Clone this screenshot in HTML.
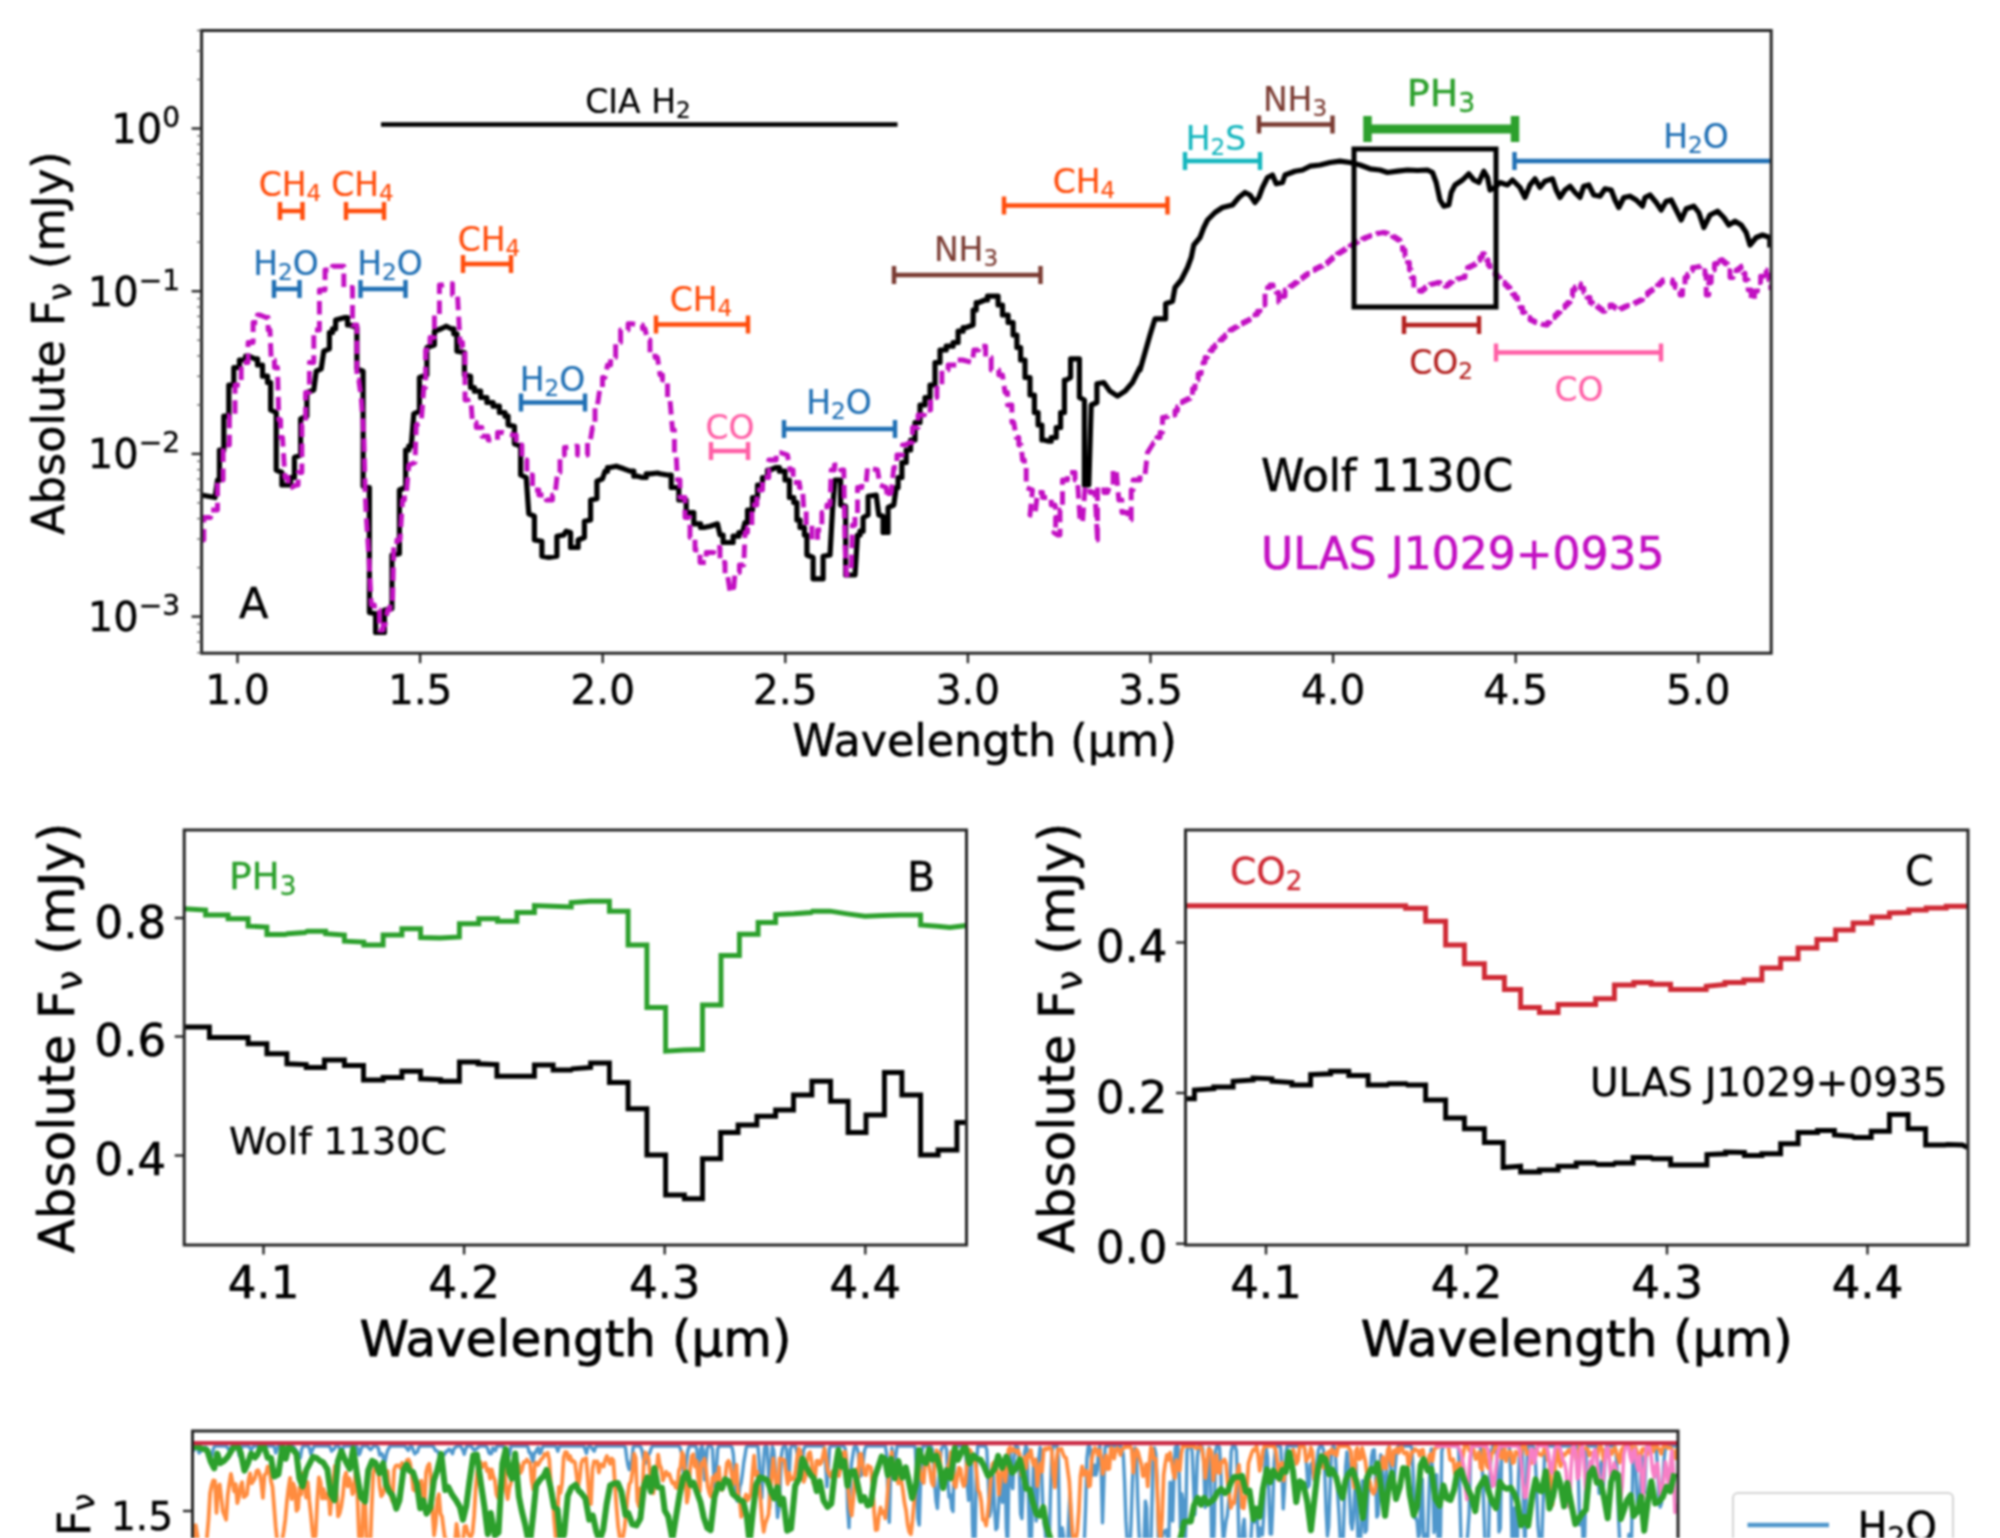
<!DOCTYPE html>
<html lang="en"><head><meta charset="utf-8"><title>Wolf 1130C spectrum</title>
<style>html,body{margin:0;padding:0;background:#fff;}body{width:2000px;height:1538px;overflow:hidden;}svg{display:block;font-family:"DejaVu Sans", "Liberation Sans", sans-serif;filter:blur(1.0px);}text{white-space:pre;}</style></head><body>
<svg width="2000" height="1538" viewBox="0 0 2000 1538">
<rect x="0" y="0" width="2000" height="1538" fill="#fff"/>
<g id="panelA">
<clipPath id="clipA"><rect x="201.6" y="30.5" width="1569.6" height="622.7"/></clipPath>
<g clip-path="url(#clipA)">
<polyline points="201.2,495.0 215.0,497.5 217.5,480.0 219.4,480.0 219.4,450.0 221.2,450.0 223.8,450.0 223.8,416.2 226.2,416.2 228.8,416.2 228.8,385.0 231.2,385.0 233.8,385.0 233.8,367.5 236.2,367.5 239.4,367.5 239.4,360.0 242.5,360.0 245.6,360.0 245.6,356.2 248.8,356.2 255.0,358.8 257.5,358.8 257.5,365.0 260.0,365.0 262.5,365.0 262.5,376.2 265.0,376.2 267.5,376.2 267.5,382.5 270.6,382.5 270.6,410.0 276.2,412.5 276.2,470.0 281.9,472.5 281.9,485.0 287.5,485.0 290.6,485.0 290.6,477.5 294.4,477.5 294.4,457.5 300.6,455.0 300.6,418.8 306.9,416.2 306.9,392.5 313.8,390.0 316.2,371.2 321.2,368.8 323.8,351.2 329.4,348.8 329.4,332.5 332.5,332.5 332.5,328.8 335.6,328.8 335.6,320.0 345.0,317.5 347.5,317.5 347.5,325.0 350.0,325.0 356.9,327.5 356.9,368.8 363.1,371.2 363.1,486.2 369.4,487.5 369.4,612.5 375.6,613.8 375.6,632.5 384.4,632.5 384.4,610.0 391.9,608.8 391.9,555.0 399.4,553.8 399.4,490.0 405.6,487.5 405.6,450.0 408.8,450.0 408.8,446.2 411.2,446.2 413.8,413.8 419.4,411.2 419.4,377.5 426.9,375.0 426.9,347.5 434.4,345.0 434.4,331.2 441.2,328.8 446.2,326.2 451.2,328.8 453.8,328.8 453.8,333.8 456.9,333.8 456.9,351.2 464.4,352.5 464.4,375.0 470.6,376.2 470.6,387.5 474.4,387.5 474.4,391.2 477.5,391.2 480.6,391.2 480.6,397.5 483.8,397.5 486.9,397.5 486.9,402.5 490.0,402.5 493.1,402.5 493.1,406.2 496.2,406.2 499.4,406.2 499.4,412.5 502.5,412.5 505.0,412.5 505.0,416.2 508.1,416.2 508.1,425.0 514.4,426.2 514.4,443.8 520.6,446.2 520.6,475.0 526.2,477.5 528.8,513.8 534.4,516.2 534.4,540.0 541.9,541.2 541.9,556.2 548.8,557.5 556.9,556.2 556.9,536.2 563.8,535.0 566.2,531.2 570.6,532.5 570.6,547.5 578.1,547.5 578.1,540.0 584.4,537.5 584.4,521.2 590.6,520.0 590.6,500.0 596.9,498.8 596.9,481.2 602.5,478.8 605.0,471.2 607.5,471.2 607.5,467.5 610.0,467.5 616.2,466.2 623.8,468.8 630.0,471.2 633.8,471.2 633.8,476.2 637.5,476.2 642.5,477.5 646.2,477.5 646.2,473.8 650.0,473.8 657.5,473.0 660.0,473.8 667.5,475.0 671.2,475.0 671.2,487.5 675.0,487.5 678.8,487.5 678.8,500.0 682.5,500.0 686.2,500.0 686.2,512.5 690.0,512.5 693.8,512.5 693.8,523.8 697.5,523.8 700.6,523.8 700.6,527.5 703.8,527.5 710.0,526.2 717.5,523.8 720.0,535.0 723.1,535.0 723.1,542.5 726.2,542.5 731.2,542.5 733.1,542.5 733.1,536.2 735.0,536.2 738.8,536.2 738.8,532.5 742.5,532.5 745.0,522.5 747.5,522.5 747.5,510.0 750.0,510.0 752.5,510.0 752.5,497.5 755.0,497.5 757.5,497.5 757.5,485.0 760.0,485.0 762.5,485.0 762.5,477.5 765.0,477.5 767.5,477.5 767.5,470.0 770.0,470.0 776.2,467.5 779.4,467.5 779.4,471.2 782.5,471.2 785.0,471.2 785.0,480.0 787.5,480.0 789.4,480.0 789.4,497.5 791.2,497.5 793.8,497.5 793.8,502.5 796.9,502.5 796.9,520.0 800.0,520.0 800.0,527.5 802.5,527.5 804.4,527.5 804.4,535.0 806.9,535.0 806.9,555.0 813.1,557.5 813.1,578.8 823.1,578.8 823.1,556.2 830.0,555.0 832.5,510.0 835.0,480.0 840.6,480.0 840.6,505.0 845.6,506.2 845.6,575.0 855.0,575.0 857.5,535.0 860.0,535.0 860.0,531.2 863.1,531.2 863.1,517.5 868.1,515.0 868.1,496.2 876.2,495.0 878.8,515.0 883.1,516.2 883.1,532.5 888.1,532.5 888.1,507.5 893.8,505.0 896.2,487.5 898.1,487.5 898.1,477.5 900.0,477.5 901.9,477.5 901.9,462.5 903.8,462.5 906.2,462.5 906.2,450.0 908.8,450.0 910.6,450.0 910.6,440.0 912.5,440.0 915.0,440.0 915.0,422.5 917.5,422.5 920.0,422.5 920.0,405.0 922.5,405.0 925.0,405.0 925.0,397.5 927.5,397.5 930.0,397.5 930.0,385.0 932.5,385.0 935.0,385.0 935.0,362.5 937.5,362.5 940.0,362.5 940.0,350.0 942.5,350.0 946.2,350.0 946.2,346.2 950.0,346.2 953.1,346.2 953.1,342.5 956.2,342.5 958.1,342.5 958.1,331.2 960.0,331.2 963.1,331.2 963.1,327.5 966.2,327.5 973.1,325.0 973.1,310.0 976.2,310.0 976.2,302.5 978.8,302.5 985.0,300.0 987.5,300.0 987.5,296.2 990.0,296.2 996.2,296.2 998.1,296.2 998.1,305.0 1000.0,305.0 1002.5,305.0 1002.5,315.0 1005.0,315.0 1008.1,315.0 1008.1,322.5 1011.2,322.5 1013.1,322.5 1013.1,335.0 1015.0,335.0 1016.9,335.0 1016.9,347.5 1018.8,347.5 1020.6,347.5 1020.6,360.0 1022.5,360.0 1025.0,360.0 1025.0,377.5 1027.5,377.5 1030.0,377.5 1030.0,395.0 1032.5,395.0 1034.4,395.0 1034.4,412.5 1036.2,412.5 1038.1,412.5 1038.1,425.0 1040.0,425.0 1041.9,425.0 1041.9,440.0 1043.8,440.0 1048.8,441.2 1051.2,441.2 1051.2,437.5 1053.8,437.5 1056.2,437.5 1056.2,427.5 1058.8,427.5 1060.6,427.5 1060.6,412.5 1062.5,412.5 1064.4,412.5 1064.4,380.0 1066.2,380.0 1070.6,377.5 1070.6,358.8 1079.4,358.8 1079.4,397.5 1084.4,400.0 1084.4,485.0 1088.8,485.0 1091.2,405.0 1096.9,402.5 1096.9,383.8 1103.8,382.5 1110.0,391.2 1117.5,396.2 1125.0,391.2 1132.5,382.5 1140.0,367.5 1140.0,370.0 1145.0,352.5 1150.0,335.0 1155.0,318.8 1165.6,318.8 1165.6,303.8 1172.5,301.2 1175.0,287.5 1181.2,280.0 1187.5,267.5 1191.2,257.5 1193.8,245.0 1200.0,237.5 1203.8,227.5 1207.5,220.0 1215.0,212.5 1222.5,207.5 1232.5,205.0 1238.8,197.5 1245.0,192.5 1250.0,195.0 1255.0,202.5 1258.8,197.5 1262.5,187.5 1267.5,177.5 1272.5,175.0 1276.2,183.8 1282.5,182.5 1285.0,175.0 1295.0,171.2 1302.5,170.0 1310.0,166.2 1320.0,165.0 1330.0,162.5 1340.0,161.2 1350.0,162.5 1360.0,165.0 1370.0,168.8 1380.0,170.0 1387.5,172.5 1397.5,171.2 1407.5,170.0 1417.5,170.5 1427.5,170.0 1432.5,172.5 1436.2,182.5 1440.0,200.0 1443.8,206.2 1448.8,205.0 1451.2,192.5 1455.0,185.0 1462.5,180.0 1468.8,173.8 1473.8,180.0 1478.8,182.5 1483.8,171.2 1487.5,177.5 1490.0,190.0 1495.0,187.5 1500.0,182.5 1500.0,182.5 1507.5,185.0 1512.5,180.0 1520.0,187.5 1525.0,197.5 1530.0,185.0 1535.0,178.8 1540.0,187.5 1545.0,181.2 1552.5,178.8 1556.2,190.0 1560.0,197.5 1565.0,190.0 1570.0,186.2 1575.0,192.5 1580.0,197.5 1583.8,186.2 1588.8,185.0 1593.8,195.0 1600.0,196.2 1605.0,188.8 1611.2,190.0 1615.0,200.0 1618.8,207.5 1623.8,197.5 1630.0,196.2 1636.2,200.0 1642.5,206.2 1645.0,197.5 1650.0,195.0 1656.2,202.5 1661.2,210.0 1666.2,201.2 1671.2,200.0 1676.2,210.0 1681.2,220.0 1686.2,208.8 1693.8,206.2 1698.8,212.5 1703.8,227.5 1710.0,215.0 1717.5,211.2 1723.8,217.5 1728.8,225.0 1735.0,221.2 1741.2,225.0 1746.2,232.5 1750.0,245.0 1756.2,237.5 1762.5,235.0 1769.8,237.5 1769.8,247.5" fill="none" stroke="#000" stroke-width="5.2" stroke-linejoin="round"/>
<polyline points="201.2,540.0 203.8,540.0 203.8,517.5 206.2,517.5 210.6,517.5 210.6,510.0 215.0,510.0 217.5,510.0 217.5,480.0 220.0,480.0 223.1,480.0 223.1,445.0 226.2,445.0 229.4,445.0 229.4,415.0 232.5,415.0 235.0,415.0 235.0,385.0 237.5,385.0 241.2,385.0 241.2,362.5 245.0,362.5 248.1,362.5 248.1,342.5 251.2,342.5 253.1,342.5 253.1,322.5 255.0,322.5 257.5,322.5 257.5,315.0 260.0,315.0 266.2,317.5 268.1,317.5 268.1,330.0 270.0,330.0 271.2,360.0 274.4,360.0 274.4,367.5 277.5,367.5 278.8,420.0 280.6,420.0 280.6,437.5 282.5,437.5 285.0,477.5 288.1,477.5 288.1,487.5 291.2,487.5 296.2,485.0 298.1,485.0 298.1,472.5 300.0,472.5 301.9,472.5 301.9,425.0 303.8,425.0 305.6,425.0 305.6,392.5 307.5,392.5 309.4,392.5 309.4,362.5 311.2,362.5 313.8,362.5 313.8,330.0 316.2,330.0 319.4,330.0 319.4,290.0 322.5,290.0 325.0,290.0 325.0,270.0 327.5,270.0 332.5,270.0 332.5,266.2 337.5,266.2 343.8,266.2 343.8,287.5 350.0,287.5 352.5,287.5 352.5,325.0 355.0,325.0 356.9,325.0 356.9,380.0 358.8,380.0 361.2,397.5 363.8,435.0 365.0,487.5 366.2,515.0 368.8,555.0 371.2,605.0 374.4,605.0 374.4,610.0 377.5,610.0 379.4,610.0 379.4,630.0 381.2,630.0 383.1,630.0 383.1,625.0 385.0,625.0 387.5,610.0 390.0,610.0 390.0,602.5 392.5,602.5 393.8,545.0 396.9,545.0 396.9,540.0 400.0,540.0 402.5,500.0 404.4,500.0 404.4,495.0 406.2,495.0 408.8,465.0 415.0,462.5 416.2,425.0 421.2,422.5 423.8,387.5 425.6,387.5 425.6,350.0 427.5,350.0 430.0,350.0 430.0,337.5 432.5,337.5 434.4,337.5 434.4,315.0 436.2,315.0 439.4,315.0 439.4,285.0 442.5,285.0 447.5,283.8 452.5,283.8 452.5,295.0 457.5,295.0 460.0,342.5 462.5,342.5 462.5,347.5 465.0,347.5 465.0,400.0 468.1,400.0 468.1,405.0 471.2,405.0 472.5,422.5 476.2,422.5 476.2,427.5 480.0,427.5 481.9,427.5 481.9,436.2 483.8,436.2 488.1,436.2 488.1,440.0 492.5,440.0 497.5,440.0 497.5,432.5 502.5,432.5 512.5,435.0 516.2,435.0 516.2,445.0 520.0,445.0 521.9,445.0 521.9,460.0 523.8,460.0 526.9,460.0 526.9,475.0 530.0,475.0 532.5,475.0 532.5,490.0 535.0,490.0 538.8,490.0 538.8,495.0 542.5,495.0 546.2,495.0 546.2,500.0 550.0,500.0 552.5,500.0 552.5,495.0 555.0,495.0 557.5,472.5 560.0,472.5 560.0,455.0 562.5,455.0 564.4,455.0 564.4,447.5 566.2,447.5 575.0,446.2 577.5,446.2 577.5,455.0 580.0,455.0 585.0,455.0 587.5,455.0 587.5,442.5 590.0,442.5 592.5,427.5 595.0,427.5 595.0,405.0 597.5,405.0 600.0,387.5 602.5,387.5 602.5,377.5 605.0,377.5 607.5,365.0 610.6,365.0 610.6,357.5 613.8,357.5 615.6,357.5 615.6,342.5 617.5,342.5 620.6,342.5 620.6,330.0 623.8,330.0 628.1,330.0 628.1,323.8 632.5,323.8 640.0,325.0 642.5,325.0 642.5,328.8 645.0,328.8 647.5,340.0 650.0,340.0 650.0,352.5 652.5,352.5 655.0,352.5 655.0,357.5 657.5,357.5 660.0,375.0 662.5,375.0 662.5,380.0 665.0,380.0 667.5,380.0 667.5,400.0 670.0,400.0 672.5,430.0 674.4,430.0 674.4,455.0 676.2,455.0 677.5,480.0 680.0,480.0 680.0,497.5 682.5,497.5 685.0,497.5 685.0,517.5 687.5,517.5 690.0,517.5 690.0,537.5 692.5,537.5 695.0,537.5 695.0,550.0 697.5,550.0 700.0,550.0 700.0,562.5 702.5,562.5 706.2,562.5 706.2,552.5 710.0,552.5 713.8,552.5 713.8,547.5 717.5,547.5 720.0,547.5 720.0,562.5 722.5,562.5 725.0,562.5 725.0,575.0 727.5,575.0 730.0,591.2 731.9,591.2 731.9,587.5 733.8,587.5 735.0,572.5 739.4,572.5 739.4,565.0 743.8,565.0 745.0,532.5 747.5,532.5 747.5,527.5 750.0,527.5 751.9,527.5 751.9,505.0 753.8,505.0 756.9,505.0 756.9,490.0 760.0,490.0 762.5,490.0 762.5,477.5 765.0,477.5 768.8,477.5 768.8,460.0 772.5,460.0 776.2,460.0 776.2,452.5 780.0,452.5 787.5,455.0 790.0,470.0 793.1,470.0 793.1,482.5 796.2,482.5 799.4,482.5 799.4,487.5 802.5,487.5 803.8,510.0 806.2,510.0 806.2,525.0 808.8,525.0 811.9,525.0 811.9,540.0 815.0,540.0 817.5,540.0 817.5,530.0 820.0,530.0 821.9,530.0 821.9,512.5 823.8,512.5 826.9,512.5 826.9,505.0 830.0,505.0 831.2,470.0 834.4,470.0 834.4,465.0 837.5,465.0 840.6,465.0 840.6,470.0 843.8,470.0 845.0,545.0 846.2,575.0 851.2,572.5 852.5,525.0 855.0,525.0 855.0,515.0 857.5,515.0 857.5,487.5 861.9,487.5 861.9,482.5 866.2,482.5 867.5,467.5 877.5,470.0 880.0,485.0 886.2,487.5 887.5,497.5 889.4,497.5 889.4,492.5 891.2,492.5 893.8,467.5 896.9,467.5 896.9,455.0 900.0,455.0 902.5,455.0 902.5,445.0 905.0,445.0 910.0,442.5 912.5,442.5 912.5,427.5 915.0,427.5 918.1,427.5 918.1,415.0 921.2,415.0 924.4,415.0 924.4,410.0 927.5,410.0 930.6,410.0 930.6,397.5 933.8,397.5 936.9,397.5 936.9,385.0 940.0,385.0 941.9,385.0 941.9,370.0 943.8,370.0 948.1,370.0 948.1,365.0 952.5,365.0 957.5,365.0 957.5,360.0 962.5,360.0 972.5,362.5 973.8,350.0 978.8,350.0 978.8,346.2 983.8,346.2 985.6,346.2 985.6,357.5 987.5,357.5 991.2,357.5 991.2,370.0 995.0,370.0 998.8,370.0 998.8,375.0 1002.5,375.0 1005.0,392.5 1007.5,392.5 1007.5,405.0 1010.0,405.0 1011.9,405.0 1011.9,422.5 1013.8,422.5 1016.2,437.5 1018.8,437.5 1018.8,445.0 1021.2,445.0 1022.5,460.0 1024.4,460.0 1024.4,465.0 1026.2,465.0 1026.2,487.5 1032.5,490.0 1030.0,515.0 1035.0,515.0 1037.5,492.5 1042.5,492.5 1042.5,497.5 1047.5,497.5 1051.2,497.5 1051.2,505.0 1055.0,505.0 1057.5,517.5 1055.6,517.5 1055.6,532.5 1053.8,532.5 1057.5,535.0 1060.0,535.0 1060.0,510.0 1062.5,510.0 1062.5,480.0 1067.5,480.0 1067.5,472.5 1072.5,472.5 1075.0,472.5 1075.0,480.0 1077.5,480.0 1080.0,520.0 1082.5,522.5 1085.0,487.5 1090.0,487.5 1090.0,492.5 1095.0,492.5 1097.5,540.0 1095.0,540.0 1097.5,540.0 1097.5,487.5 1100.0,487.5 1103.8,487.5 1103.8,492.5 1107.5,492.5 1110.0,485.0 1113.1,485.0 1113.1,470.0 1116.2,470.0 1118.8,500.0 1121.9,500.0 1121.9,512.5 1125.0,512.5 1128.1,512.5 1128.1,520.0 1131.2,520.0 1131.2,490.0 1133.1,490.0 1133.1,480.0 1135.0,480.0 1140.0,480.0 1140.0,475.0 1145.0,475.0 1147.5,452.5 1153.8,442.5 1156.9,442.5 1156.9,437.5 1160.0,437.5 1160.0,432.5 1162.5,432.5 1162.5,417.5 1165.0,417.5 1165.0,416.9 1167.5,416.9 1167.5,416.2 1170.0,416.2 1170.0,415.6 1172.5,415.6 1172.5,415.0 1175.0,415.0 1175.0,410.8 1177.5,410.8 1177.5,406.7 1180.0,406.7 1180.0,402.5 1182.5,402.5 1182.5,401.2 1185.0,401.2 1185.0,400.0 1187.5,400.0 1187.5,398.8 1190.0,398.8 1190.0,397.5 1192.5,397.5 1192.5,388.8 1195.0,388.8 1195.0,380.0 1198.1,380.0 1198.1,373.8 1201.2,373.8 1201.2,367.5 1203.1,367.5 1203.1,362.5 1205.0,362.5 1205.0,357.5 1207.5,357.5 1207.5,354.2 1210.0,354.2 1210.0,350.8 1212.5,350.8 1212.5,347.5 1215.0,347.5 1215.0,345.0 1217.5,345.0 1217.5,342.5 1220.0,342.5 1220.0,340.0 1222.5,340.0 1222.5,337.5 1225.0,337.5 1225.0,335.0 1227.5,335.0 1227.5,332.5 1230.0,332.5 1230.0,330.0 1232.5,330.0 1232.5,328.4 1235.0,328.4 1235.0,326.9 1237.5,326.9 1237.5,325.3 1240.0,325.3 1240.0,323.8 1243.1,323.8 1243.1,322.2 1246.2,322.2 1246.2,320.6 1249.4,320.6 1249.4,319.1 1252.5,319.1 1252.5,317.5 1255.0,317.5 1255.0,314.4 1257.5,314.4 1257.5,311.2 1260.0,311.2 1260.0,308.1 1262.5,308.1 1262.5,305.0 1265.0,305.0 1265.0,292.5 1265.0,290.0 1267.5,290.0 1267.5,287.5 1270.0,287.5 1270.0,285.0 1273.1,285.0 1273.1,288.8 1276.2,288.8 1276.2,292.5 1278.8,292.5 1278.8,302.5 1281.9,302.5 1281.9,296.2 1285.0,296.2 1285.0,290.0 1287.5,290.0 1287.5,288.1 1290.0,288.1 1290.0,286.2 1292.5,286.2 1292.5,284.4 1295.0,284.4 1295.0,282.5 1297.5,282.5 1297.5,280.6 1300.0,280.6 1300.0,278.8 1302.5,278.8 1302.5,276.9 1305.0,276.9 1305.0,275.0 1307.5,275.0 1307.5,273.4 1310.0,273.4 1310.0,271.9 1312.5,271.9 1312.5,270.3 1315.0,270.3 1315.0,268.8 1317.5,268.8 1317.5,267.5 1320.0,267.5 1320.0,266.2 1322.5,266.2 1322.5,265.0 1325.0,265.0 1325.0,263.8 1327.5,263.8 1327.5,261.6 1330.0,261.6 1330.0,259.4 1332.5,259.4 1332.5,257.2 1335.0,257.2 1335.0,255.0 1337.5,255.0 1337.5,253.4 1340.0,253.4 1340.0,251.9 1342.5,251.9 1342.5,250.3 1345.0,250.3 1345.0,248.8 1347.5,248.8 1347.5,247.2 1350.0,247.2 1350.0,245.6 1352.5,245.6 1352.5,244.1 1355.0,244.1 1355.0,242.5 1357.5,242.5 1357.5,241.2 1360.0,241.2 1360.0,240.0 1362.5,240.0 1362.5,238.8 1365.0,238.8 1365.0,237.5 1367.5,237.5 1367.5,236.6 1370.0,236.6 1370.0,235.6 1372.5,235.6 1372.5,234.7 1375.0,234.7 1375.0,233.8 1377.5,233.8 1377.5,233.3 1380.0,233.3 1380.0,232.9 1382.5,232.9 1382.5,232.5 1385.0,232.5 1385.0,233.3 1387.5,233.3 1387.5,234.2 1390.0,234.2 1390.0,235.0 1392.5,235.0 1392.5,236.7 1395.0,236.7 1395.0,238.3 1397.5,238.3 1397.5,240.0 1400.0,240.0 1400.0,245.0 1402.5,245.0 1402.5,250.0 1405.0,250.0 1405.0,256.2 1407.5,256.2 1407.5,262.5 1409.4,262.5 1409.4,270.0 1411.2,270.0 1411.2,277.5 1413.8,277.5 1413.8,290.0 1416.9,290.0 1416.9,290.6 1420.0,290.6 1420.0,291.2 1422.5,291.2 1422.5,289.2 1425.0,289.2 1425.0,287.1 1427.5,287.1 1427.5,285.0 1430.0,285.0 1430.0,284.4 1432.5,284.4 1432.5,283.8 1435.0,283.8 1435.0,283.1 1437.5,283.1 1437.5,282.5 1440.0,282.5 1440.0,283.8 1442.5,283.8 1442.5,285.0 1445.0,285.0 1445.0,286.2 1447.5,286.2 1447.5,284.2 1450.0,284.2 1450.0,282.1 1452.5,282.1 1452.5,280.0 1455.0,280.0 1455.0,279.4 1457.5,279.4 1457.5,278.8 1460.0,278.8 1460.0,278.1 1462.5,278.1 1462.5,277.5 1465.0,277.5 1465.0,272.5 1467.5,272.5 1467.5,267.5 1470.0,267.5 1470.0,266.2 1472.5,266.2 1472.5,265.0 1475.0,265.0 1475.0,263.8 1477.5,263.8 1477.5,260.4 1480.0,260.4 1480.0,257.1 1482.5,257.1 1482.5,253.8 1484.4,253.8 1484.4,256.9 1486.2,256.9 1486.2,260.0 1488.1,260.0 1488.1,265.0 1490.0,265.0 1490.0,270.0 1492.5,270.0 1492.5,272.5 1495.0,272.5 1495.0,275.0 1497.5,275.0 1497.5,277.5 1500.0,277.5 1500.0,280.0 1500.0,280.0 1502.5,280.0 1502.5,282.5 1505.0,282.5 1505.0,285.0 1507.5,285.0 1507.5,287.5 1510.0,287.5 1510.0,290.8 1512.5,290.8 1512.5,294.2 1515.0,294.2 1515.0,297.5 1517.5,297.5 1517.5,302.5 1520.0,302.5 1520.0,307.5 1522.5,307.5 1522.5,312.5 1525.0,312.5 1525.0,315.0 1527.5,315.0 1527.5,317.5 1530.0,317.5 1530.0,320.0 1532.5,320.0 1532.5,321.2 1535.0,321.2 1535.0,322.5 1537.5,322.5 1537.5,323.8 1540.0,323.8 1540.0,324.2 1542.5,324.2 1542.5,324.6 1545.0,324.6 1545.0,325.0 1547.5,325.0 1547.5,322.5 1550.0,322.5 1550.0,320.0 1552.5,320.0 1552.5,317.5 1555.0,317.5 1555.0,315.0 1557.5,315.0 1557.5,312.5 1560.0,312.5 1560.0,310.0 1562.5,310.0 1562.5,307.5 1565.0,307.5 1565.0,305.0 1567.5,305.0 1567.5,302.5 1570.0,302.5 1570.0,296.2 1572.5,296.2 1572.5,290.0 1575.0,290.0 1575.0,286.9 1577.5,286.9 1577.5,283.8 1580.6,283.8 1580.6,288.1 1583.8,288.1 1583.8,292.5 1586.9,292.5 1586.9,297.5 1590.0,297.5 1590.0,302.5 1592.5,302.5 1592.5,304.2 1595.0,304.2 1595.0,305.8 1597.5,305.8 1597.5,307.5 1600.0,307.5 1600.0,309.4 1602.5,309.4 1602.5,311.2 1605.0,311.2 1605.0,309.2 1607.5,309.2 1607.5,307.1 1610.0,307.1 1610.0,305.0 1612.5,305.0 1612.5,306.7 1615.0,306.7 1615.0,308.3 1617.5,308.3 1617.5,310.0 1620.0,310.0 1620.0,308.8 1622.5,308.8 1622.5,307.5 1625.0,307.5 1625.0,306.2 1627.5,306.2 1627.5,305.4 1630.0,305.4 1630.0,304.6 1632.5,304.6 1632.5,303.8 1635.0,303.8 1635.0,302.5 1637.5,302.5 1637.5,301.2 1640.0,301.2 1640.0,300.0 1642.5,300.0 1642.5,297.5 1645.0,297.5 1645.0,295.0 1647.5,295.0 1647.5,292.5 1650.0,292.5 1650.0,290.8 1652.5,290.8 1652.5,289.2 1655.0,289.2 1655.0,287.5 1657.5,287.5 1657.5,285.0 1660.0,285.0 1660.0,282.5 1662.5,282.5 1662.5,280.0 1670.0,280.0 1672.5,280.0 1672.5,283.8 1675.0,283.8 1675.0,287.5 1677.5,287.5 1677.5,291.2 1680.0,291.2 1680.0,295.0 1682.5,295.0 1682.5,286.2 1685.0,286.2 1685.0,277.5 1687.5,277.5 1687.5,274.2 1690.0,274.2 1690.0,270.8 1692.5,270.8 1692.5,267.5 1695.0,267.5 1695.0,267.1 1697.5,267.1 1697.5,266.7 1700.0,266.7 1700.0,266.2 1702.5,266.2 1702.5,270.6 1705.0,270.6 1705.0,275.0 1706.2,275.0 1706.2,295.0 1708.8,295.0 1708.8,282.5 1711.2,282.5 1711.2,270.0 1714.4,270.0 1714.4,263.8 1717.5,263.8 1717.5,257.5 1720.0,257.5 1720.0,259.6 1722.5,259.6 1722.5,261.7 1725.0,261.7 1725.0,263.8 1727.5,263.8 1727.5,270.6 1730.0,270.6 1730.0,277.5 1733.1,277.5 1733.1,273.8 1736.2,273.8 1736.2,270.0 1738.8,270.0 1738.8,268.1 1741.2,268.1 1741.2,266.2 1743.1,266.2 1743.1,273.1 1745.0,273.1 1745.0,280.0 1748.1,280.0 1748.1,290.0 1751.2,290.0 1751.2,300.0 1754.4,300.0 1754.4,291.2 1757.5,291.2 1757.5,282.5 1760.6,282.5 1760.6,276.2 1763.8,276.2 1763.8,270.0 1766.2,270.0 1766.2,275.0 1768.8,275.0 1768.8,280.0 1770.8,280.0 1770.8,290.0" fill="none" stroke="#c20fc2" stroke-width="4.9" stroke-dasharray="13.5 6.5" stroke-linejoin="round"/>
</g>
<line x1="381.0" y1="124.5" x2="897.5" y2="124.5" stroke="#000" stroke-width="4.6" />
<text x="638.0" y="112.5" font-size="33" fill="#000" stroke="#000" stroke-width="0.18" text-anchor="middle" >CIA H<tspan font-size="23.1" dy="5.3">2</tspan></text>
<line x1="280.0" y1="211.0" x2="302.5" y2="211.0" stroke="#ff4d0c" stroke-width="4.4" />
<line x1="280.0" y1="202.0" x2="280.0" y2="220.0" stroke="#ff4d0c" stroke-width="4.4" />
<line x1="302.5" y1="202.0" x2="302.5" y2="220.0" stroke="#ff4d0c" stroke-width="4.4" />
<text x="290.0" y="196.0" font-size="33" fill="#ff4d0c" stroke="#ff4d0c" stroke-width="0.18" text-anchor="middle" >CH<tspan font-size="23.1" dy="5.3">4</tspan></text>
<line x1="346.0" y1="211.0" x2="384.0" y2="211.0" stroke="#ff4d0c" stroke-width="4.4" />
<line x1="346.0" y1="202.0" x2="346.0" y2="220.0" stroke="#ff4d0c" stroke-width="4.4" />
<line x1="384.0" y1="202.0" x2="384.0" y2="220.0" stroke="#ff4d0c" stroke-width="4.4" />
<text x="362.5" y="196.0" font-size="33" fill="#ff4d0c" stroke="#ff4d0c" stroke-width="0.18" text-anchor="middle" >CH<tspan font-size="23.1" dy="5.3">4</tspan></text>
<line x1="463.0" y1="264.0" x2="511.0" y2="264.0" stroke="#ff4d0c" stroke-width="4.4" />
<line x1="463.0" y1="255.0" x2="463.0" y2="273.0" stroke="#ff4d0c" stroke-width="4.4" />
<line x1="511.0" y1="255.0" x2="511.0" y2="273.0" stroke="#ff4d0c" stroke-width="4.4" />
<text x="489.0" y="251.0" font-size="33" fill="#ff4d0c" stroke="#ff4d0c" stroke-width="0.18" text-anchor="middle" >CH<tspan font-size="23.1" dy="5.3">4</tspan></text>
<line x1="656.0" y1="324.5" x2="748.0" y2="324.5" stroke="#ff4d0c" stroke-width="4.4" />
<line x1="656.0" y1="315.5" x2="656.0" y2="333.5" stroke="#ff4d0c" stroke-width="4.4" />
<line x1="748.0" y1="315.5" x2="748.0" y2="333.5" stroke="#ff4d0c" stroke-width="4.4" />
<text x="701.0" y="311.0" font-size="33" fill="#ff4d0c" stroke="#ff4d0c" stroke-width="0.18" text-anchor="middle" >CH<tspan font-size="23.1" dy="5.3">4</tspan></text>
<line x1="1004.0" y1="205.5" x2="1167.5" y2="205.5" stroke="#ff4d0c" stroke-width="4.4" />
<line x1="1004.0" y1="196.5" x2="1004.0" y2="214.5" stroke="#ff4d0c" stroke-width="4.4" />
<line x1="1167.5" y1="196.5" x2="1167.5" y2="214.5" stroke="#ff4d0c" stroke-width="4.4" />
<text x="1084.0" y="192.5" font-size="33" fill="#ff4d0c" stroke="#ff4d0c" stroke-width="0.18" text-anchor="middle" >CH<tspan font-size="23.1" dy="5.3">4</tspan></text>
<line x1="274.0" y1="289.0" x2="299.5" y2="289.0" stroke="#1f6fb4" stroke-width="4.4" />
<line x1="274.0" y1="280.0" x2="274.0" y2="298.0" stroke="#1f6fb4" stroke-width="4.4" />
<line x1="299.5" y1="280.0" x2="299.5" y2="298.0" stroke="#1f6fb4" stroke-width="4.4" />
<text x="286.0" y="275.0" font-size="33" fill="#1f6fb4" stroke="#1f6fb4" stroke-width="0.18" text-anchor="middle" >H<tspan font-size="23.1" dy="5.3">2</tspan><tspan dy="-5.3">O</tspan></text>
<line x1="360.5" y1="289.0" x2="405.5" y2="289.0" stroke="#1f6fb4" stroke-width="4.4" />
<line x1="360.5" y1="280.0" x2="360.5" y2="298.0" stroke="#1f6fb4" stroke-width="4.4" />
<line x1="405.5" y1="280.0" x2="405.5" y2="298.0" stroke="#1f6fb4" stroke-width="4.4" />
<text x="390.0" y="275.0" font-size="33" fill="#1f6fb4" stroke="#1f6fb4" stroke-width="0.18" text-anchor="middle" >H<tspan font-size="23.1" dy="5.3">2</tspan><tspan dy="-5.3">O</tspan></text>
<line x1="521.0" y1="402.5" x2="585.0" y2="402.5" stroke="#1f6fb4" stroke-width="4.4" />
<line x1="521.0" y1="393.5" x2="521.0" y2="411.5" stroke="#1f6fb4" stroke-width="4.4" />
<line x1="585.0" y1="393.5" x2="585.0" y2="411.5" stroke="#1f6fb4" stroke-width="4.4" />
<text x="552.5" y="391.0" font-size="33" fill="#1f6fb4" stroke="#1f6fb4" stroke-width="0.18" text-anchor="middle" >H<tspan font-size="23.1" dy="5.3">2</tspan><tspan dy="-5.3">O</tspan></text>
<line x1="784.0" y1="429.0" x2="895.0" y2="429.0" stroke="#1f6fb4" stroke-width="4.4" />
<line x1="784.0" y1="420.0" x2="784.0" y2="438.0" stroke="#1f6fb4" stroke-width="4.4" />
<line x1="895.0" y1="420.0" x2="895.0" y2="438.0" stroke="#1f6fb4" stroke-width="4.4" />
<text x="839.0" y="414.0" font-size="33" fill="#1f6fb4" stroke="#1f6fb4" stroke-width="0.18" text-anchor="middle" >H<tspan font-size="23.1" dy="5.3">2</tspan><tspan dy="-5.3">O</tspan></text>
<line x1="1514.5" y1="161.0" x2="1771.2" y2="161.0" stroke="#1f6fb4" stroke-width="4.4" />
<line x1="1514.5" y1="152.0" x2="1514.5" y2="170.0" stroke="#1f6fb4" stroke-width="4.4" />
<text x="1696.0" y="147.5" font-size="33" fill="#1f6fb4" stroke="#1f6fb4" stroke-width="0.18" text-anchor="middle" >H<tspan font-size="23.1" dy="5.3">2</tspan><tspan dy="-5.3">O</tspan></text>
<line x1="894.0" y1="275.0" x2="1040.5" y2="275.0" stroke="#7a3b32" stroke-width="4.4" />
<line x1="894.0" y1="266.0" x2="894.0" y2="284.0" stroke="#7a3b32" stroke-width="4.4" />
<line x1="1040.5" y1="266.0" x2="1040.5" y2="284.0" stroke="#7a3b32" stroke-width="4.4" />
<text x="966.0" y="261.0" font-size="33" fill="#7a3b32" stroke="#7a3b32" stroke-width="0.18" text-anchor="middle" >NH<tspan font-size="23.1" dy="5.3">3</tspan></text>
<line x1="1259.0" y1="124.5" x2="1332.5" y2="124.5" stroke="#7a3b32" stroke-width="4.4" />
<line x1="1259.0" y1="115.5" x2="1259.0" y2="133.5" stroke="#7a3b32" stroke-width="4.4" />
<line x1="1332.5" y1="115.5" x2="1332.5" y2="133.5" stroke="#7a3b32" stroke-width="4.4" />
<text x="1295.0" y="111.0" font-size="33" fill="#7a3b32" stroke="#7a3b32" stroke-width="0.18" text-anchor="middle" >NH<tspan font-size="23.1" dy="5.3">3</tspan></text>
<line x1="1185.0" y1="161.0" x2="1260.0" y2="161.0" stroke="#14b6be" stroke-width="4.4" />
<line x1="1185.0" y1="152.0" x2="1185.0" y2="170.0" stroke="#14b6be" stroke-width="4.4" />
<line x1="1260.0" y1="152.0" x2="1260.0" y2="170.0" stroke="#14b6be" stroke-width="4.4" />
<text x="1216.0" y="150.0" font-size="33" fill="#14b6be" stroke="#14b6be" stroke-width="0.18" text-anchor="middle" >H<tspan font-size="23.1" dy="5.3">2</tspan><tspan dy="-5.3">S</tspan></text>
<line x1="1367.5" y1="129.0" x2="1515.0" y2="129.0" stroke="#2ca02c" stroke-width="8.8" />
<line x1="1367.5" y1="116.0" x2="1367.5" y2="142.0" stroke="#2ca02c" stroke-width="8.5" />
<line x1="1515.0" y1="116.0" x2="1515.0" y2="142.0" stroke="#2ca02c" stroke-width="8.5" />
<text x="1441.0" y="106.0" font-size="38" fill="#2ca02c" stroke="#2ca02c" stroke-width="0.36" text-anchor="middle" >PH<tspan font-size="26.6" dy="6.1">3</tspan></text>
<line x1="1404.0" y1="325.0" x2="1479.0" y2="325.0" stroke="#b3201f" stroke-width="4.4" />
<line x1="1404.0" y1="316.0" x2="1404.0" y2="334.0" stroke="#b3201f" stroke-width="4.4" />
<line x1="1479.0" y1="316.0" x2="1479.0" y2="334.0" stroke="#b3201f" stroke-width="4.4" />
<text x="1441.0" y="374.0" font-size="33" fill="#b3201f" stroke="#b3201f" stroke-width="0.18" text-anchor="middle" >CO<tspan font-size="23.1" dy="5.3">2</tspan></text>
<line x1="711.0" y1="451.0" x2="748.0" y2="451.0" stroke="#ff5fa6" stroke-width="4.4" />
<line x1="711.0" y1="442.0" x2="711.0" y2="460.0" stroke="#ff5fa6" stroke-width="4.4" />
<line x1="748.0" y1="442.0" x2="748.0" y2="460.0" stroke="#ff5fa6" stroke-width="4.4" />
<text x="730.0" y="439.0" font-size="33" fill="#ff5fa6" stroke="#ff5fa6" stroke-width="0.18" text-anchor="middle" >CO</text>
<line x1="1496.0" y1="352.5" x2="1661.0" y2="352.5" stroke="#ff5fa6" stroke-width="4.4" />
<line x1="1496.0" y1="343.5" x2="1496.0" y2="361.5" stroke="#ff5fa6" stroke-width="4.4" />
<line x1="1661.0" y1="343.5" x2="1661.0" y2="361.5" stroke="#ff5fa6" stroke-width="4.4" />
<text x="1579.0" y="401.0" font-size="33" fill="#ff5fa6" stroke="#ff5fa6" stroke-width="0.18" text-anchor="middle" >CO</text>
<rect x="1354.0" y="149.0" width="142.0" height="158.0" fill="none" stroke="#000" stroke-width="5" />
<text x="239.0" y="617.5" font-size="43" fill="#000" stroke="#000" stroke-width="0.54" text-anchor="start" >A</text>
<text x="1261.0" y="491.0" font-size="44" fill="#000" stroke="#000" stroke-width="0.58" text-anchor="start" >Wolf 1130C</text>
<text x="1261.0" y="569.0" font-size="44" fill="#c20fc2" stroke="#c20fc2" stroke-width="0.58" text-anchor="start" >ULAS J1029+0935</text>
<rect x="201.6" y="30.5" width="1569.6" height="622.7" fill="none" stroke="#262626" stroke-width="3.0" />
<line x1="237.5" y1="653.2" x2="237.5" y2="663.2" stroke="#262626" stroke-width="2.4" />
<text x="237.5" y="704.0" font-size="40.5" fill="#000" stroke="#000" stroke-width="0.45" text-anchor="middle" >1.0</text>
<line x1="420.1" y1="653.2" x2="420.1" y2="663.2" stroke="#262626" stroke-width="2.4" />
<text x="420.1" y="704.0" font-size="40.5" fill="#000" stroke="#000" stroke-width="0.45" text-anchor="middle" >1.5</text>
<line x1="602.7" y1="653.2" x2="602.7" y2="663.2" stroke="#262626" stroke-width="2.4" />
<text x="602.7" y="704.0" font-size="40.5" fill="#000" stroke="#000" stroke-width="0.45" text-anchor="middle" >2.0</text>
<line x1="785.3" y1="653.2" x2="785.3" y2="663.2" stroke="#262626" stroke-width="2.4" />
<text x="785.3" y="704.0" font-size="40.5" fill="#000" stroke="#000" stroke-width="0.45" text-anchor="middle" >2.5</text>
<line x1="967.9" y1="653.2" x2="967.9" y2="663.2" stroke="#262626" stroke-width="2.4" />
<text x="967.9" y="704.0" font-size="40.5" fill="#000" stroke="#000" stroke-width="0.45" text-anchor="middle" >3.0</text>
<line x1="1150.5" y1="653.2" x2="1150.5" y2="663.2" stroke="#262626" stroke-width="2.4" />
<text x="1150.5" y="704.0" font-size="40.5" fill="#000" stroke="#000" stroke-width="0.45" text-anchor="middle" >3.5</text>
<line x1="1333.1" y1="653.2" x2="1333.1" y2="663.2" stroke="#262626" stroke-width="2.4" />
<text x="1333.1" y="704.0" font-size="40.5" fill="#000" stroke="#000" stroke-width="0.45" text-anchor="middle" >4.0</text>
<line x1="1515.7" y1="653.2" x2="1515.7" y2="663.2" stroke="#262626" stroke-width="2.4" />
<text x="1515.7" y="704.0" font-size="40.5" fill="#000" stroke="#000" stroke-width="0.45" text-anchor="middle" >4.5</text>
<line x1="1698.3" y1="653.2" x2="1698.3" y2="663.2" stroke="#262626" stroke-width="2.4" />
<text x="1698.3" y="704.0" font-size="40.5" fill="#000" stroke="#000" stroke-width="0.45" text-anchor="middle" >5.0</text>
<line x1="197.1" y1="652.7" x2="201.6" y2="652.7" stroke="#555" stroke-width="1.3" />
<line x1="197.1" y1="641.8" x2="201.6" y2="641.8" stroke="#555" stroke-width="1.3" />
<line x1="197.1" y1="632.4" x2="201.6" y2="632.4" stroke="#555" stroke-width="1.3" />
<line x1="197.1" y1="624.0" x2="201.6" y2="624.0" stroke="#555" stroke-width="1.3" />
<line x1="191.6" y1="616.6" x2="201.6" y2="616.6" stroke="#262626" stroke-width="2.4" />
<line x1="197.1" y1="567.6" x2="201.6" y2="567.6" stroke="#555" stroke-width="1.3" />
<line x1="197.1" y1="539.0" x2="201.6" y2="539.0" stroke="#555" stroke-width="1.3" />
<line x1="197.1" y1="518.6" x2="201.6" y2="518.6" stroke="#555" stroke-width="1.3" />
<line x1="197.1" y1="502.9" x2="201.6" y2="502.9" stroke="#555" stroke-width="1.3" />
<line x1="197.1" y1="490.0" x2="201.6" y2="490.0" stroke="#555" stroke-width="1.3" />
<line x1="197.1" y1="479.1" x2="201.6" y2="479.1" stroke="#555" stroke-width="1.3" />
<line x1="197.1" y1="469.7" x2="201.6" y2="469.7" stroke="#555" stroke-width="1.3" />
<line x1="197.1" y1="461.3" x2="201.6" y2="461.3" stroke="#555" stroke-width="1.3" />
<line x1="191.6" y1="453.9" x2="201.6" y2="453.9" stroke="#262626" stroke-width="2.4" />
<line x1="197.1" y1="404.9" x2="201.6" y2="404.9" stroke="#555" stroke-width="1.3" />
<line x1="197.1" y1="376.3" x2="201.6" y2="376.3" stroke="#555" stroke-width="1.3" />
<line x1="197.1" y1="355.9" x2="201.6" y2="355.9" stroke="#555" stroke-width="1.3" />
<line x1="197.1" y1="340.2" x2="201.6" y2="340.2" stroke="#555" stroke-width="1.3" />
<line x1="197.1" y1="327.3" x2="201.6" y2="327.3" stroke="#555" stroke-width="1.3" />
<line x1="197.1" y1="316.4" x2="201.6" y2="316.4" stroke="#555" stroke-width="1.3" />
<line x1="197.1" y1="307.0" x2="201.6" y2="307.0" stroke="#555" stroke-width="1.3" />
<line x1="197.1" y1="298.6" x2="201.6" y2="298.6" stroke="#555" stroke-width="1.3" />
<line x1="191.6" y1="291.2" x2="201.6" y2="291.2" stroke="#262626" stroke-width="2.4" />
<line x1="197.1" y1="242.2" x2="201.6" y2="242.2" stroke="#555" stroke-width="1.3" />
<line x1="197.1" y1="213.6" x2="201.6" y2="213.6" stroke="#555" stroke-width="1.3" />
<line x1="197.1" y1="193.2" x2="201.6" y2="193.2" stroke="#555" stroke-width="1.3" />
<line x1="197.1" y1="177.5" x2="201.6" y2="177.5" stroke="#555" stroke-width="1.3" />
<line x1="197.1" y1="164.6" x2="201.6" y2="164.6" stroke="#555" stroke-width="1.3" />
<line x1="197.1" y1="153.7" x2="201.6" y2="153.7" stroke="#555" stroke-width="1.3" />
<line x1="197.1" y1="144.3" x2="201.6" y2="144.3" stroke="#555" stroke-width="1.3" />
<line x1="197.1" y1="135.9" x2="201.6" y2="135.9" stroke="#555" stroke-width="1.3" />
<line x1="191.6" y1="128.5" x2="201.6" y2="128.5" stroke="#262626" stroke-width="2.4" />
<line x1="197.1" y1="79.5" x2="201.6" y2="79.5" stroke="#555" stroke-width="1.3" />
<line x1="197.1" y1="50.9" x2="201.6" y2="50.9" stroke="#555" stroke-width="1.3" />
<line x1="197.1" y1="30.5" x2="201.6" y2="30.5" stroke="#555" stroke-width="1.3" />
<text x="180.0" y="143.0" font-size="40" fill="#000" stroke="#000" stroke-width="0.43" text-anchor="end" >10<tspan font-size="28.0" dy="-16.0">0</tspan></text>
<text x="180.0" y="305.7" font-size="40" fill="#000" stroke="#000" stroke-width="0.43" text-anchor="end" >10<tspan font-size="28.0" dy="-16.0">−1</tspan></text>
<text x="180.0" y="468.4" font-size="40" fill="#000" stroke="#000" stroke-width="0.43" text-anchor="end" >10<tspan font-size="28.0" dy="-16.0">−2</tspan></text>
<text x="180.0" y="631.1" font-size="40" fill="#000" stroke="#000" stroke-width="0.43" text-anchor="end" >10<tspan font-size="28.0" dy="-16.0">−3</tspan></text>
<text x="984.5" y="755.5" font-size="44.5" fill="#000" stroke="#000" stroke-width="0.59" text-anchor="middle" >Wavelength (μm)</text>
<text transform="translate(64,343) rotate(-90)" font-size="44.5" stroke="#000" stroke-width="0.55" text-anchor="middle">Absolute F<tspan font-size="31.1" dy="7.1">ν</tspan><tspan dy="-7.1"> (mJy)</tspan></text>
</g>
<g id="B">
<clipPath id="clipB"><rect x="184.2" y="830.0" width="782.3" height="415.0"/></clipPath>
<g clip-path="url(#clipB)">
<polyline points="183.8,908.8 205.6,910.0 205.6,915.0 228.1,915.0 228.1,918.8 248.1,918.8 248.1,926.2 266.9,927.0 266.9,934.5 285.0,934.5 287.5,933.8 305.0,932.5 307.5,931.2 325.6,931.2 325.6,933.8 344.4,935.0 344.4,941.2 363.8,942.0 363.8,945.0 383.1,945.0 383.1,935.0 401.9,935.0 401.9,928.8 420.6,928.8 420.6,937.5 440.0,938.0 459.4,937.0 459.4,923.8 478.8,923.8 478.8,918.8 497.5,918.8 497.5,921.2 516.9,921.2 516.9,912.5 517.5,912.5 534.4,912.5 534.4,905.5 552.5,906.2 571.2,907.0 571.2,902.5 590.0,901.2 609.4,901.2 609.4,911.2 628.1,911.2 628.1,945.0 646.9,945.0 646.9,1007.5 665.6,1007.5 665.6,1051.2 683.8,1050.0 702.5,1049.5 702.5,1005.0 721.0,1005.0 721.0,955.5 739.4,955.5 739.4,934.2 758.1,934.2 758.1,922.5 775.6,922.5 775.6,914.5 793.8,913.8 811.2,912.5 812.5,911.2 830.0,911.2 847.5,913.8 865.0,916.2 882.5,915.5 900.0,915.0 920.6,915.0 920.6,925.0 937.5,926.2 950.0,927.5 966.2,925.5" fill="none" stroke="#2ca02c" stroke-width="4.9"  stroke-linejoin="miter"/>
<polyline points="183.8,1027.0 209.4,1027.0 209.4,1037.5 248.1,1037.5 248.1,1043.8 266.9,1043.8 266.9,1053.8 286.9,1053.8 286.9,1063.8 306.2,1064.5 306.2,1067.5 324.4,1067.5 324.4,1060.0 344.4,1060.0 344.4,1065.5 363.5,1065.5 363.5,1080.0 383.1,1080.0 383.1,1077.5 401.9,1077.5 401.9,1071.2 420.6,1071.2 420.6,1078.8 440.6,1079.5 440.6,1081.2 459.4,1081.2 459.4,1062.0 478.1,1062.0 478.1,1063.8 496.9,1064.5 496.9,1076.2 520.0,1076.2 500.0,1076.2 534.4,1076.2 534.4,1065.0 553.1,1065.0 553.1,1070.0 571.2,1070.0 572.5,1068.8 590.6,1067.5 590.6,1063.0 609.4,1063.0 609.4,1082.5 628.1,1082.5 628.1,1108.8 646.9,1108.8 646.9,1155.0 665.6,1155.0 665.6,1195.0 684.4,1195.0 684.4,1198.8 702.5,1198.8 702.5,1158.8 720.6,1158.8 720.6,1132.5 738.1,1132.5 738.1,1125.0 756.9,1125.0 756.9,1116.2 775.6,1116.2 775.6,1110.0 793.5,1110.0 793.5,1095.0 811.9,1095.0 811.9,1081.2 830.6,1081.2 830.6,1101.2 848.1,1101.2 848.1,1132.5 866.0,1132.5 866.0,1115.0 884.4,1115.0 884.4,1072.5 901.9,1072.5 901.9,1095.0 920.6,1095.0 920.6,1155.0 938.1,1155.0 938.1,1150.0 956.9,1150.0 956.9,1122.5 966.2,1122.5" fill="none" stroke="#000" stroke-width="4.9"  stroke-linejoin="miter"/>
</g>
<rect x="184.2" y="830.0" width="782.3" height="415.0" fill="none" stroke="#262626" stroke-width="3.0" />
<line x1="263.5" y1="1245.0" x2="263.5" y2="1254.5" stroke="#262626" stroke-width="2.4" />
<text x="263.5" y="1297.5" font-size="45" fill="#000" stroke="#000" stroke-width="0.61" text-anchor="middle" >4.1</text>
<line x1="464.1" y1="1245.0" x2="464.1" y2="1254.5" stroke="#262626" stroke-width="2.4" />
<text x="464.1" y="1297.5" font-size="45" fill="#000" stroke="#000" stroke-width="0.61" text-anchor="middle" >4.2</text>
<line x1="664.7" y1="1245.0" x2="664.7" y2="1254.5" stroke="#262626" stroke-width="2.4" />
<text x="664.7" y="1297.5" font-size="45" fill="#000" stroke="#000" stroke-width="0.61" text-anchor="middle" >4.3</text>
<line x1="865.3" y1="1245.0" x2="865.3" y2="1254.5" stroke="#262626" stroke-width="2.4" />
<text x="865.3" y="1297.5" font-size="45" fill="#000" stroke="#000" stroke-width="0.61" text-anchor="middle" >4.4</text>
<line x1="174.7" y1="918.0" x2="184.2" y2="918.0" stroke="#262626" stroke-width="2.4" />
<text x="166.2" y="937.5" font-size="45" fill="#000" stroke="#000" stroke-width="0.61" text-anchor="end" >0.8</text>
<line x1="174.7" y1="1036.5" x2="184.2" y2="1036.5" stroke="#262626" stroke-width="2.4" />
<text x="166.2" y="1056.0" font-size="45" fill="#000" stroke="#000" stroke-width="0.61" text-anchor="end" >0.6</text>
<line x1="174.7" y1="1155.5" x2="184.2" y2="1155.5" stroke="#262626" stroke-width="2.4" />
<text x="166.2" y="1175.0" font-size="45" fill="#000" stroke="#000" stroke-width="0.61" text-anchor="end" >0.4</text>
<text x="229.0" y="889.0" font-size="37.5" fill="#2ca02c" stroke="#2ca02c" stroke-width="0.34" text-anchor="start" >PH<tspan font-size="26.2" dy="6.0">3</tspan></text>
<text x="229.0" y="1154.0" font-size="38" fill="#000" stroke="#000" stroke-width="0.36" text-anchor="start" >Wolf 1130C</text>
<text x="907.0" y="890.5" font-size="41" fill="#000" stroke="#000" stroke-width="0.47" text-anchor="start" >B</text>
<text x="575.4" y="1356.0" font-size="50" fill="#000" stroke="#000" stroke-width="0.79" text-anchor="middle" >Wavelength (μm)</text>
<text transform="translate(73.5,1038) rotate(-90)" font-size="50" stroke="#000" stroke-width="0.6" text-anchor="middle">Absolute F<tspan font-size="35.0" dy="8.0">ν</tspan><tspan dy="-8.0"> (mJy)</tspan></text>
</g>
<g id="C">
<clipPath id="clipC"><rect x="1185.5" y="830.0" width="782.5" height="415.0"/></clipPath>
<g clip-path="url(#clipC)">
<polyline points="1185.0,905.8 1405.6,905.8 1405.6,908.2 1425.6,908.2 1425.6,921.2 1445.6,921.2 1445.6,945.0 1464.4,945.0 1464.4,963.8 1484.4,963.8 1484.4,977.5 1504.4,977.5 1504.4,989.5 1520.6,989.5 1520.6,1007.5 1539.4,1007.5 1539.4,1012.5 1558.1,1012.5 1558.1,1004.5 1595.6,1004.5 1595.6,998.8 1614.4,998.8 1614.4,985.0 1633.8,985.0 1633.8,982.5 1651.2,982.5 1651.2,984.2 1670.6,984.2 1670.6,989.5 1706.2,989.5 1706.2,986.2 1725.0,984.5 1725.0,982.5 1743.8,982.5 1743.8,980.0 1761.9,980.0 1761.9,968.0 1780.6,968.0 1780.6,958.8 1798.1,958.8 1798.1,948.0 1816.9,948.0 1816.9,939.5 1835.6,939.5 1835.6,930.0 1853.1,930.0 1853.1,923.0 1871.9,923.0 1871.9,917.0 1889.4,917.0 1889.4,913.0 1908.8,912.5 1908.8,910.0 1926.2,910.0 1926.2,908.0 1946.2,908.0 1946.2,906.2 1967.5,906.2" fill="none" stroke="#cf2a35" stroke-width="4.9"  stroke-linejoin="miter"/>
<polyline points="1185.0,1098.8 1194.4,1098.8 1194.4,1090.0 1213.8,1088.8 1213.8,1087.0 1233.1,1087.0 1233.1,1081.2 1253.1,1080.0 1253.1,1078.0 1271.9,1078.8 1271.9,1081.2 1291.9,1082.5 1291.9,1085.0 1310.6,1085.0 1310.6,1074.5 1330.6,1073.8 1330.6,1071.2 1348.8,1071.2 1348.8,1075.5 1368.1,1075.5 1368.1,1085.0 1387.5,1085.0 1388.8,1083.8 1406.2,1083.8 1407.5,1085.0 1425.6,1085.0 1425.6,1100.0 1445.6,1100.0 1445.6,1118.0 1464.4,1118.0 1464.4,1128.8 1484.4,1128.8 1484.4,1142.5 1503.1,1142.5 1503.1,1167.5 1503.8,1167.5 1520.6,1166.2 1520.6,1172.0 1539.4,1172.0 1539.4,1170.0 1558.1,1170.0 1558.1,1166.2 1576.2,1166.2 1576.2,1163.0 1595.0,1163.0 1597.5,1164.5 1613.8,1164.5 1615.0,1163.0 1633.1,1163.0 1633.1,1157.5 1651.2,1157.5 1652.5,1158.8 1670.6,1158.8 1670.6,1165.0 1706.9,1165.0 1706.9,1154.5 1725.6,1153.8 1725.6,1152.0 1744.4,1152.5 1744.4,1155.5 1761.9,1155.5 1761.9,1153.8 1780.6,1153.8 1780.6,1143.8 1798.1,1143.8 1798.1,1132.5 1817.5,1132.5 1817.5,1130.5 1834.4,1130.5 1834.4,1135.0 1852.5,1136.2 1853.8,1137.5 1871.2,1137.5 1871.2,1131.2 1889.4,1131.2 1889.4,1114.5 1908.1,1114.5 1908.1,1128.8 1925.6,1128.8 1925.6,1145.0 1945.0,1145.0 1947.5,1144.5 1962.5,1145.0 1967.5,1147.5" fill="none" stroke="#000" stroke-width="4.9"  stroke-linejoin="miter"/>
</g>
<rect x="1185.5" y="830.0" width="782.5" height="415.0" fill="none" stroke="#262626" stroke-width="3.0" />
<line x1="1266.0" y1="1245.0" x2="1266.0" y2="1254.5" stroke="#262626" stroke-width="2.4" />
<text x="1266.0" y="1297.5" font-size="45" fill="#000" stroke="#000" stroke-width="0.61" text-anchor="middle" >4.1</text>
<line x1="1466.5" y1="1245.0" x2="1466.5" y2="1254.5" stroke="#262626" stroke-width="2.4" />
<text x="1466.5" y="1297.5" font-size="45" fill="#000" stroke="#000" stroke-width="0.61" text-anchor="middle" >4.2</text>
<line x1="1667.0" y1="1245.0" x2="1667.0" y2="1254.5" stroke="#262626" stroke-width="2.4" />
<text x="1667.0" y="1297.5" font-size="45" fill="#000" stroke="#000" stroke-width="0.61" text-anchor="middle" >4.3</text>
<line x1="1867.5" y1="1245.0" x2="1867.5" y2="1254.5" stroke="#262626" stroke-width="2.4" />
<text x="1867.5" y="1297.5" font-size="45" fill="#000" stroke="#000" stroke-width="0.61" text-anchor="middle" >4.4</text>
<line x1="1176.0" y1="942.5" x2="1185.5" y2="942.5" stroke="#262626" stroke-width="2.4" />
<text x="1167.5" y="962.0" font-size="45" fill="#000" stroke="#000" stroke-width="0.61" text-anchor="end" >0.4</text>
<line x1="1176.0" y1="1093.0" x2="1185.5" y2="1093.0" stroke="#262626" stroke-width="2.4" />
<text x="1167.5" y="1112.5" font-size="45" fill="#000" stroke="#000" stroke-width="0.61" text-anchor="end" >0.2</text>
<line x1="1176.0" y1="1243.7" x2="1185.5" y2="1243.7" stroke="#262626" stroke-width="2.4" />
<text x="1167.5" y="1263.2" font-size="45" fill="#000" stroke="#000" stroke-width="0.61" text-anchor="end" >0.0</text>
<text x="1230.0" y="884.0" font-size="37.5" fill="#cf2a35" stroke="#cf2a35" stroke-width="0.34" text-anchor="start" >CO<tspan font-size="26.2" dy="6.0">2</tspan></text>
<text x="1590.0" y="1096.0" font-size="39" fill="#000" stroke="#000" stroke-width="0.40" text-anchor="start" >ULAS J1029+0935</text>
<text x="1905.0" y="885.0" font-size="41" fill="#000" stroke="#000" stroke-width="0.47" text-anchor="start" >C</text>
<text x="1576.8" y="1356.0" font-size="50" fill="#000" stroke="#000" stroke-width="0.79" text-anchor="middle" >Wavelength (μm)</text>
<text transform="translate(1073.5,1038) rotate(-90)" font-size="50" stroke="#000" stroke-width="0.6" text-anchor="middle">Absolute F<tspan font-size="35.0" dy="8.0">ν</tspan><tspan dy="-8.0"> (mJy)</tspan></text>
</g>
<g id="panelD">
<clipPath id="clipD"><rect x="192.5" y="1431.0" width="1485.5" height="200.0"/></clipPath>
<g clip-path="url(#clipD)">
<polyline points="192.5,1448.4 193.8,1450.5 195.1,1446.5 196.4,1446.2 197.7,1448.4 199.0,1452.9 200.3,1451.9 201.6,1450.0 202.9,1449.7 204.2,1448.0 205.5,1447.3 206.8,1448.1 208.1,1449.9 209.4,1453.1 210.7,1457.9 212.0,1455.1 213.3,1449.1 214.6,1446.5 215.9,1446.1 217.2,1446.0 218.5,1446.0 219.8,1446.0 221.1,1446.0 222.4,1446.0 223.7,1446.0 225.0,1446.0 226.3,1446.3 227.6,1447.7 228.9,1449.7 230.2,1448.6 231.5,1446.9 232.8,1446.1 234.1,1446.0 235.4,1446.0 236.7,1446.3 238.0,1449.6 239.3,1455.8 240.6,1451.2 241.9,1446.8 243.2,1446.0 244.5,1446.0 245.8,1446.0 247.1,1446.0 248.4,1446.1 249.7,1447.6 251.0,1449.9 252.3,1448.1 253.6,1446.2 254.9,1446.0 256.2,1446.0 257.5,1446.1 258.8,1448.2 260.1,1451.8 261.4,1448.5 262.7,1446.1 264.0,1446.0 265.3,1446.0 266.6,1446.0 267.9,1446.0 269.2,1446.0 270.5,1446.0 271.8,1446.0 273.1,1446.0 274.4,1447.2 275.7,1452.9 277.0,1449.7 278.3,1446.2 279.6,1446.1 280.9,1446.9 282.2,1448.8 283.5,1450.5 284.8,1450.4 286.1,1450.2 287.4,1447.0 288.7,1446.4 290.0,1446.1 291.3,1446.1 292.6,1446.3 293.9,1447.4 295.2,1448.9 296.5,1450.7 297.8,1453.2 299.1,1458.6 300.4,1457.6 301.7,1448.9 303.0,1446.2 304.3,1446.0 305.6,1446.0 306.9,1446.0 308.2,1446.2 309.5,1448.3 310.8,1453.9 312.1,1451.0 313.4,1447.5 314.7,1446.2 316.0,1446.0 317.3,1446.0 318.6,1446.0 319.9,1446.0 321.2,1446.0 322.5,1446.0 323.8,1446.0 325.1,1446.0 326.4,1446.0 327.7,1446.0 329.0,1446.3 330.3,1447.5 331.6,1451.2 332.9,1449.8 334.2,1448.9 335.5,1446.5 336.8,1446.0 338.1,1446.1 339.4,1447.2 340.7,1451.8 342.0,1452.9 343.3,1446.9 344.6,1446.1 345.9,1446.0 347.2,1446.0 348.5,1446.0 349.8,1446.0 351.1,1446.0 352.4,1446.0 353.7,1446.0 355.0,1446.0 356.3,1446.1 357.6,1448.1 358.9,1454.8 360.2,1452.6 361.5,1447.7 362.8,1446.2 364.1,1446.0 365.4,1446.0 366.7,1446.1 368.0,1446.8 369.3,1448.5 370.6,1449.6 371.9,1448.1 373.2,1446.5 374.5,1446.1 375.8,1446.1 377.1,1446.9 378.4,1448.1 379.7,1455.1 381.0,1453.4 382.3,1454.1 383.6,1459.7 384.9,1462.2 386.2,1455.6 387.5,1450.9 388.8,1448.2 390.1,1446.2 391.4,1446.0 392.7,1446.0 394.0,1446.0 395.3,1446.0 396.6,1446.0 397.9,1446.0 399.2,1446.0 400.5,1446.0 401.8,1446.0 403.1,1446.0 404.4,1446.0 405.7,1447.0 407.0,1448.8 408.3,1450.4 409.6,1447.3 410.9,1446.2 412.2,1446.9 413.5,1451.0 414.8,1453.9 416.1,1452.6 417.4,1451.9 418.7,1447.6 420.0,1446.3 421.3,1446.0 422.6,1446.0 423.9,1446.0 425.2,1446.0 426.5,1446.0 427.8,1446.0 429.1,1446.0 430.4,1446.0 431.7,1446.0 433.0,1446.3 434.3,1448.2 435.6,1450.8 436.9,1450.8 438.2,1451.8 439.5,1456.8 440.8,1454.7 442.1,1458.4 443.4,1454.9 444.7,1454.3 446.0,1451.5 447.3,1451.4 448.6,1449.3 449.9,1449.5 451.2,1451.4 452.5,1453.7 453.8,1449.1 455.1,1447.7 456.4,1446.8 457.7,1446.1 459.0,1446.0 460.3,1446.1 461.6,1447.8 462.9,1450.5 464.2,1454.2 465.5,1449.5 466.8,1446.6 468.1,1446.0 469.4,1446.0 470.7,1446.2 472.0,1447.2 473.3,1449.3 474.6,1450.1 475.9,1449.2 477.2,1448.2 478.5,1446.9 479.8,1446.2 481.1,1446.0 482.4,1446.0 483.7,1446.0 485.0,1446.1 486.3,1446.7 487.6,1448.3 488.9,1452.8 490.2,1453.8 491.5,1453.5 492.8,1448.1 494.1,1448.5 495.4,1450.6 496.7,1446.8 498.0,1446.0 499.3,1446.0 500.6,1446.0 501.9,1446.0 503.2,1446.3 504.5,1449.1 505.8,1449.6 507.1,1454.6 508.4,1457.7 509.7,1453.7 511.0,1446.3 512.3,1446.0 513.6,1446.0 514.9,1446.0 516.2,1446.0 517.5,1446.0 518.8,1446.0 520.1,1446.0 521.4,1446.0 522.7,1446.0 524.0,1446.0 525.3,1446.0 526.6,1446.0 527.9,1447.2 529.2,1452.6 530.5,1452.5 531.8,1457.8 533.1,1461.4 534.4,1452.9 535.7,1452.4 537.0,1449.2 538.3,1447.7 539.6,1453.5 540.9,1452.4 542.2,1447.7 543.5,1446.1 544.8,1446.0 546.1,1446.0 547.4,1446.0 548.7,1446.0 550.0,1446.0 551.3,1446.0 552.6,1446.0 553.9,1446.0 555.2,1446.0 556.5,1447.5 557.8,1451.2 559.1,1447.1 560.4,1446.0 561.7,1446.0 563.0,1446.0 564.3,1446.0 565.6,1446.0 566.9,1446.0 568.2,1446.0 569.5,1446.0 570.8,1446.0 572.1,1446.0 573.4,1446.0 574.7,1446.0 576.0,1446.0 577.3,1446.0 578.6,1446.0 579.9,1446.0 581.2,1446.0 582.5,1446.0 583.8,1446.1 585.1,1449.5 586.4,1453.3 587.7,1447.7 589.0,1446.1 590.3,1446.1 591.6,1447.5 592.9,1449.7 594.2,1451.3 595.5,1447.2 596.8,1446.1 598.1,1446.0 599.4,1446.0 600.7,1446.0 602.0,1446.0 603.3,1446.0 604.6,1446.0 605.9,1446.0 607.2,1446.0 608.5,1446.0 609.8,1446.0 611.1,1446.0 612.4,1446.0 613.7,1446.0 615.0,1446.0 616.3,1446.0 617.6,1446.0 618.9,1446.0 620.2,1446.0 621.5,1446.0 622.8,1446.0 624.1,1446.2 625.4,1447.3 626.7,1458.0 628.0,1465.6 629.3,1469.6 630.6,1464.0 631.9,1459.6 633.2,1447.0 634.5,1446.0 635.8,1446.0 637.1,1446.0 638.4,1446.0 639.7,1446.3 641.0,1447.4 642.3,1451.7 643.6,1460.2 644.9,1463.8 646.2,1460.8 647.5,1457.1 648.8,1454.6 650.1,1451.9 651.4,1447.8 652.7,1446.1 654.0,1446.0 655.3,1446.0 656.6,1446.0 657.9,1446.0 659.2,1446.0 660.5,1446.0 661.8,1446.0 663.1,1446.0 664.4,1446.0 665.7,1446.0 667.0,1446.0 668.3,1446.0 669.6,1446.0 670.9,1446.0 672.2,1446.0 673.5,1446.0 674.8,1446.0 676.1,1446.0 677.4,1446.0 678.7,1446.1 680.0,1447.4 681.3,1452.1 682.6,1462.9 683.9,1476.6 685.2,1473.6 686.5,1460.8 687.8,1451.0 689.1,1446.6 690.4,1446.1 691.7,1446.0 693.0,1446.0 694.3,1446.0 695.6,1446.0 696.9,1449.3 698.2,1471.2 699.5,1470.4 700.8,1448.1 702.1,1446.1 703.4,1451.3 704.7,1479.9 706.0,1463.7 707.3,1447.9 708.6,1446.0 709.9,1446.0 711.2,1446.2 712.5,1449.0 713.8,1474.9 715.1,1487.9 716.4,1468.5 717.7,1448.7 719.0,1446.0 720.3,1446.0 721.6,1446.0 722.9,1446.0 724.2,1446.0 725.5,1446.0 726.8,1446.0 728.1,1446.0 729.4,1446.0 730.7,1446.3 732.0,1447.3 733.3,1454.1 734.6,1472.1 735.9,1488.2 737.2,1501.0 738.5,1499.9 739.8,1486.7 741.1,1483.0 742.4,1474.1 743.7,1462.9 745.0,1455.4 746.3,1447.2 747.6,1446.1 748.9,1446.0 750.2,1446.0 751.5,1446.0 752.8,1446.0 754.1,1446.0 755.4,1446.0 756.7,1446.0 758.0,1447.0 759.3,1461.3 760.6,1499.0 761.9,1497.8 763.2,1468.0 764.5,1447.7 765.8,1446.0 767.1,1447.0 768.4,1470.1 769.7,1507.9 771.0,1464.1 772.3,1446.6 773.6,1449.9 774.9,1463.7 776.2,1492.7 777.5,1517.5 778.8,1509.3 780.1,1486.8 781.4,1456.1 782.7,1447.8 784.0,1446.2 785.3,1446.0 786.6,1449.7 787.9,1476.2 789.2,1476.2 790.5,1448.6 791.8,1446.0 793.1,1446.0 794.4,1446.1 795.7,1446.8 797.0,1452.5 798.3,1460.7 799.6,1475.0 800.9,1479.4 802.2,1463.5 803.5,1450.4 804.8,1447.1 806.1,1446.1 807.4,1446.0 808.7,1446.0 810.0,1446.0 811.3,1446.0 812.6,1446.0 813.9,1446.0 815.2,1446.0 816.5,1446.0 817.8,1446.0 819.1,1446.0 820.4,1446.0 821.7,1446.0 823.0,1446.0 824.3,1447.6 825.6,1464.1 826.9,1486.7 828.2,1470.9 829.5,1448.2 830.8,1446.1 832.1,1446.0 833.4,1446.0 834.7,1446.0 836.0,1446.0 837.3,1446.0 838.6,1446.0 839.9,1446.0 841.2,1446.0 842.5,1446.0 843.8,1446.4 845.1,1448.2 846.4,1457.7 847.7,1508.6 849.0,1527.6 850.3,1479.8 851.6,1463.2 852.9,1454.9 854.2,1447.2 855.5,1446.3 856.8,1447.4 858.1,1452.4 859.4,1464.6 860.7,1476.1 862.0,1471.2 863.3,1460.5 864.6,1450.3 865.9,1446.6 867.2,1446.1 868.5,1446.0 869.8,1446.0 871.1,1446.0 872.4,1446.0 873.7,1446.0 875.0,1446.0 876.3,1446.0 877.6,1446.0 878.9,1446.0 880.2,1446.0 881.5,1446.0 882.8,1446.0 884.1,1446.0 885.4,1446.2 886.7,1454.8 888.0,1503.4 889.3,1522.3 890.6,1473.4 891.9,1447.8 893.2,1455.7 894.5,1479.1 895.8,1455.4 897.1,1446.2 898.4,1446.0 899.7,1446.0 901.0,1446.0 902.3,1446.0 903.6,1446.0 904.9,1446.0 906.2,1446.0 907.5,1446.0 908.8,1446.0 910.1,1446.0 911.4,1446.0 912.7,1446.0 914.0,1446.0 915.3,1447.8 916.6,1473.9 917.9,1518.2 919.2,1525.0 920.5,1484.4 921.8,1452.3 923.1,1446.1 924.4,1446.0 925.7,1446.0 927.0,1446.0 928.3,1446.0 929.6,1446.0 930.9,1446.4 932.2,1448.8 933.5,1459.1 934.8,1484.6 936.1,1501.3 937.4,1508.5 938.7,1487.3 940.0,1462.5 941.3,1449.4 942.6,1446.9 943.9,1446.1 945.2,1446.1 946.5,1449.3 947.8,1480.3 949.1,1497.1 950.4,1494.7 951.7,1508.6 953.0,1511.4 954.3,1456.5 955.6,1446.2 956.9,1446.0 958.2,1446.0 959.5,1446.0 960.8,1446.0 962.1,1446.0 963.4,1446.0 964.7,1446.4 966.0,1456.5 967.3,1484.8 968.6,1500.3 969.9,1468.9 971.2,1455.6 972.5,1524.8 973.8,1556.1 975.1,1537.8 976.4,1467.5 977.7,1446.6 979.0,1446.0 980.3,1446.0 981.6,1446.0 982.9,1446.0 984.2,1446.0 985.5,1446.1 986.8,1449.8 988.1,1476.2 989.4,1516.3 990.7,1511.0 992.0,1474.6 993.3,1476.3 994.6,1509.3 995.9,1529.6 997.2,1527.8 998.5,1507.6 999.8,1477.3 1001.1,1488.8 1002.4,1502.3 1003.7,1474.1 1005.0,1458.8 1006.3,1527.9 1007.6,1547.0 1008.9,1473.4 1010.2,1449.7 1011.5,1484.6 1012.8,1488.6 1014.1,1457.4 1015.4,1446.2 1016.7,1446.0 1018.0,1447.6 1019.3,1469.6 1020.6,1513.7 1021.9,1518.6 1023.2,1488.1 1024.5,1453.1 1025.8,1446.4 1027.1,1448.2 1028.4,1493.3 1029.7,1550.8 1031.0,1555.7 1032.3,1502.8 1033.6,1460.9 1034.9,1491.5 1036.2,1521.0 1037.5,1503.2 1038.8,1458.6 1040.1,1447.4 1041.4,1464.0 1042.7,1502.0 1044.0,1523.4 1045.3,1530.4 1046.6,1554.5 1047.9,1557.8 1049.2,1544.7 1050.5,1493.9 1051.8,1453.0 1053.1,1446.6 1054.4,1446.0 1055.7,1446.0 1057.0,1446.0 1058.3,1456.6 1059.6,1539.3 1060.9,1559.4 1062.2,1527.8 1063.5,1536.4 1064.8,1558.1 1066.1,1557.2 1067.4,1555.1 1068.7,1519.7 1070.0,1492.7 1071.3,1527.5 1072.6,1556.3 1073.9,1559.6 1075.2,1559.8 1076.5,1558.8 1077.8,1562.8 1079.1,1558.0 1080.4,1559.2 1081.7,1557.8 1083.0,1557.7 1084.3,1543.2 1085.6,1507.6 1086.9,1458.5 1088.2,1446.7 1089.5,1446.6 1090.8,1451.0 1092.1,1467.6 1093.4,1475.1 1094.7,1465.3 1096.0,1475.0 1097.3,1469.5 1098.6,1449.4 1099.9,1446.4 1101.2,1467.9 1102.5,1522.8 1103.8,1483.8 1105.1,1447.3 1106.4,1446.0 1107.7,1446.0 1109.0,1446.0 1110.3,1446.0 1111.6,1446.0 1112.9,1446.0 1114.2,1446.0 1115.5,1446.0 1116.8,1446.0 1118.1,1446.0 1119.4,1446.0 1120.7,1446.2 1122.0,1448.3 1123.3,1455.0 1124.6,1482.4 1125.9,1520.4 1127.2,1541.3 1128.5,1552.7 1129.8,1551.1 1131.1,1522.4 1132.4,1482.8 1133.7,1457.5 1135.0,1448.0 1136.3,1450.1 1137.6,1496.4 1138.9,1529.8 1140.2,1550.4 1141.5,1559.4 1142.8,1554.6 1144.1,1538.4 1145.4,1501.1 1146.7,1508.1 1148.0,1557.5 1149.3,1562.1 1150.6,1558.3 1151.9,1508.3 1153.2,1456.4 1154.5,1448.0 1155.8,1453.8 1157.1,1479.9 1158.4,1540.1 1159.7,1556.8 1161.0,1554.1 1162.3,1536.2 1163.6,1532.6 1164.9,1531.0 1166.2,1530.1 1167.5,1539.4 1168.8,1542.2 1170.1,1482.1 1171.4,1483.6 1172.7,1521.0 1174.0,1476.4 1175.3,1447.6 1176.6,1446.0 1177.9,1446.5 1179.2,1474.2 1180.5,1527.9 1181.8,1493.7 1183.1,1501.7 1184.4,1559.1 1185.7,1527.8 1187.0,1451.4 1188.3,1446.0 1189.6,1446.0 1190.9,1446.3 1192.2,1451.9 1193.5,1482.4 1194.8,1514.6 1196.1,1493.9 1197.4,1456.9 1198.7,1446.4 1200.0,1446.0 1201.3,1446.1 1202.6,1448.1 1203.9,1467.5 1205.2,1507.5 1206.5,1501.1 1207.8,1466.4 1209.1,1447.7 1210.4,1465.0 1211.7,1541.4 1213.0,1560.8 1214.3,1523.3 1215.6,1450.4 1216.9,1446.0 1218.2,1446.1 1219.5,1447.5 1220.8,1468.8 1222.1,1518.8 1223.4,1543.5 1224.7,1531.4 1226.0,1521.2 1227.3,1515.6 1228.6,1502.3 1229.9,1490.8 1231.2,1451.9 1232.5,1446.2 1233.8,1446.0 1235.1,1446.3 1236.4,1451.0 1237.7,1487.9 1239.0,1542.8 1240.3,1555.9 1241.6,1550.3 1242.9,1526.8 1244.2,1519.3 1245.5,1547.3 1246.8,1560.0 1248.1,1556.9 1249.4,1554.8 1250.7,1542.5 1252.0,1521.3 1253.3,1507.8 1254.6,1522.1 1255.9,1507.4 1257.2,1519.2 1258.5,1542.1 1259.8,1527.9 1261.1,1531.2 1262.4,1534.8 1263.7,1515.1 1265.0,1465.2 1266.3,1448.7 1267.6,1458.0 1268.9,1496.0 1270.2,1533.9 1271.5,1534.0 1272.8,1505.6 1274.1,1463.9 1275.4,1448.3 1276.7,1446.1 1278.0,1446.0 1279.3,1446.0 1280.6,1446.7 1281.9,1467.1 1283.2,1508.8 1284.5,1488.5 1285.8,1453.2 1287.1,1446.1 1288.4,1446.0 1289.7,1446.0 1291.0,1446.0 1292.3,1446.0 1293.6,1446.0 1294.9,1446.0 1296.2,1446.0 1297.5,1446.0 1298.8,1446.0 1300.1,1446.0 1301.4,1446.0 1302.7,1446.0 1304.0,1446.8 1305.3,1451.1 1306.6,1465.7 1307.9,1487.2 1309.2,1484.9 1310.5,1464.7 1311.8,1463.0 1313.1,1471.4 1314.4,1480.4 1315.7,1474.2 1317.0,1462.0 1318.3,1450.6 1319.6,1446.8 1320.9,1446.0 1322.2,1446.3 1323.5,1450.0 1324.8,1472.3 1326.1,1511.2 1327.4,1536.0 1328.7,1526.5 1330.0,1488.8 1331.3,1455.0 1332.6,1446.8 1333.9,1446.4 1335.2,1450.2 1336.5,1475.5 1337.8,1494.7 1339.1,1515.2 1340.4,1542.7 1341.7,1551.6 1343.0,1545.3 1344.3,1504.8 1345.6,1467.0 1346.9,1451.9 1348.2,1464.0 1349.5,1494.2 1350.8,1523.0 1352.1,1529.2 1353.4,1518.7 1354.7,1493.0 1356.0,1463.6 1357.3,1517.2 1358.6,1559.3 1359.9,1554.6 1361.2,1526.8 1362.5,1480.6 1363.8,1510.3 1365.1,1532.4 1366.4,1530.1 1367.7,1498.1 1369.0,1480.8 1370.3,1475.1 1371.6,1456.7 1372.9,1450.4 1374.2,1449.8 1375.5,1472.8 1376.8,1517.0 1378.1,1514.7 1379.4,1475.2 1380.7,1454.6 1382.0,1467.0 1383.3,1478.9 1384.6,1493.2 1385.9,1487.9 1387.2,1456.1 1388.5,1447.5 1389.8,1450.9 1391.1,1470.3 1392.4,1487.3 1393.7,1489.0 1395.0,1469.1 1396.3,1452.8 1397.6,1447.2 1398.9,1446.1 1400.2,1446.0 1401.5,1446.0 1402.8,1446.0 1404.1,1446.0 1405.4,1446.0 1406.7,1446.0 1408.0,1446.0 1409.3,1446.0 1410.6,1446.0 1411.9,1448.2 1413.2,1474.9 1414.5,1517.9 1415.8,1517.8 1417.1,1521.5 1418.4,1537.2 1419.7,1533.3 1421.0,1497.0 1422.3,1479.3 1423.6,1537.6 1424.9,1543.0 1426.2,1534.3 1427.5,1545.4 1428.8,1501.3 1430.1,1461.3 1431.4,1448.9 1432.7,1474.8 1434.0,1532.5 1435.3,1522.8 1436.6,1474.8 1437.9,1534.1 1439.2,1555.5 1440.5,1532.9 1441.8,1451.5 1443.1,1446.0 1444.4,1446.0 1445.7,1446.0 1447.0,1446.0 1448.3,1446.0 1449.6,1446.0 1450.9,1446.0 1452.2,1446.0 1453.5,1446.0 1454.8,1446.0 1456.1,1446.0 1457.4,1446.3 1458.7,1449.4 1460.0,1502.1 1461.3,1554.6 1462.6,1551.7 1463.9,1543.1 1465.2,1547.6 1466.5,1545.5 1467.8,1533.3 1469.1,1513.7 1470.4,1461.4 1471.7,1447.1 1473.0,1446.2 1474.3,1446.0 1475.6,1446.0 1476.9,1446.0 1478.2,1446.1 1479.5,1446.5 1480.8,1448.7 1482.1,1464.4 1483.4,1496.7 1484.7,1535.9 1486.0,1553.1 1487.3,1554.1 1488.6,1536.4 1489.9,1475.3 1491.2,1454.8 1492.5,1446.7 1493.8,1446.2 1495.1,1446.0 1496.4,1446.2 1497.7,1467.4 1499.0,1531.9 1500.3,1528.2 1501.6,1456.9 1502.9,1446.1 1504.2,1446.0 1505.5,1446.0 1506.8,1446.0 1508.1,1446.0 1509.4,1446.9 1510.7,1473.1 1512.0,1539.1 1513.3,1540.3 1514.6,1508.0 1515.9,1530.4 1517.2,1552.0 1518.5,1480.2 1519.8,1446.3 1521.1,1446.0 1522.4,1450.1 1523.7,1518.4 1525.0,1547.8 1526.3,1491.0 1527.6,1447.3 1528.9,1446.0 1530.2,1446.0 1531.5,1446.0 1532.8,1446.2 1534.1,1448.3 1535.4,1460.7 1536.7,1490.5 1538.0,1526.2 1539.3,1539.3 1540.6,1547.6 1541.9,1538.7 1543.2,1498.7 1544.5,1457.3 1545.8,1447.2 1547.1,1446.1 1548.4,1446.0 1549.7,1446.0 1551.0,1446.0 1552.3,1446.0 1553.6,1446.0 1554.9,1446.0 1556.2,1446.0 1557.5,1446.0 1558.8,1446.0 1560.1,1446.0 1561.4,1446.0 1562.7,1446.0 1564.0,1446.0 1565.3,1446.0 1566.6,1446.0 1567.9,1446.0 1569.2,1446.0 1570.5,1446.0 1571.8,1446.0 1573.1,1446.0 1574.4,1446.0 1575.7,1446.0 1577.0,1447.2 1578.3,1472.7 1579.6,1524.8 1580.9,1512.6 1582.2,1517.9 1583.5,1556.1 1584.8,1532.9 1586.1,1453.6 1587.4,1446.1 1588.7,1446.0 1590.0,1446.0 1591.3,1446.0 1592.6,1446.0 1593.9,1446.0 1595.2,1446.0 1596.5,1446.6 1597.8,1464.1 1599.1,1493.4 1600.4,1470.4 1601.7,1461.8 1603.0,1489.9 1604.3,1473.7 1605.6,1450.8 1606.9,1446.1 1608.2,1446.0 1609.5,1446.0 1610.8,1446.0 1612.1,1446.0 1613.4,1446.0 1614.7,1446.3 1616.0,1451.0 1617.3,1474.2 1618.6,1519.1 1619.9,1545.9 1621.2,1555.3 1622.5,1549.1 1623.8,1539.8 1625.1,1550.3 1626.4,1556.9 1627.7,1553.4 1629.0,1534.2 1630.3,1539.2 1631.6,1536.8 1632.9,1460.7 1634.2,1448.3 1635.5,1460.8 1636.8,1494.2 1638.1,1513.0 1639.4,1507.8 1640.7,1477.8 1642.0,1455.5 1643.3,1474.7 1644.6,1492.4 1645.9,1457.7 1647.2,1446.1 1648.5,1446.0 1649.8,1446.0 1651.1,1446.0 1652.4,1446.0 1653.7,1446.0 1655.0,1446.1 1656.3,1449.4 1657.6,1467.9 1658.9,1495.4 1660.2,1507.0 1661.5,1502.9 1662.8,1482.5 1664.1,1459.1 1665.4,1447.6 1666.7,1446.2 1668.0,1446.0 1669.3,1446.0 1670.6,1446.0 1671.9,1446.0 1673.2,1446.0 1674.5,1446.0 1675.8,1446.0 1677.1,1446.1" fill="none" stroke="#4f97cc" stroke-width="3.4" stroke-linejoin="round"/>
<polyline points="192.5,1558.4 194.1,1542.6 195.7,1525.2 197.3,1535.3 198.9,1546.8 200.5,1552.0 202.1,1553.8 203.7,1551.5 205.3,1547.1 206.9,1537.8 208.5,1519.6 210.1,1493.1 211.7,1485.2 213.3,1480.4 214.9,1480.8 216.5,1512.8 218.1,1487.9 219.7,1484.4 221.3,1498.1 222.9,1511.3 224.5,1515.4 226.1,1519.7 227.7,1495.5 229.3,1483.8 230.9,1474.0 232.5,1481.8 234.1,1491.3 235.7,1484.2 237.3,1503.1 238.9,1497.0 240.5,1486.4 242.1,1482.2 243.7,1497.1 245.3,1496.1 246.9,1494.5 248.5,1480.7 250.1,1473.4 251.7,1483.3 253.3,1481.0 254.9,1478.0 256.5,1471.2 258.1,1470.2 259.7,1474.0 261.3,1482.7 262.9,1497.9 264.5,1475.0 266.1,1473.8 267.7,1466.5 269.3,1467.8 270.9,1480.7 272.5,1487.0 274.1,1506.7 275.7,1526.9 277.3,1541.9 278.9,1544.5 280.5,1543.7 282.1,1540.6 283.7,1531.3 285.3,1519.4 286.9,1501.7 288.5,1488.0 290.1,1477.9 291.7,1499.1 293.3,1483.5 294.9,1488.2 296.5,1510.8 298.1,1508.7 299.7,1487.1 301.3,1494.4 302.9,1472.9 304.5,1479.7 306.1,1497.6 307.7,1482.1 309.3,1500.4 310.9,1514.8 312.5,1531.5 314.1,1544.8 315.7,1533.9 317.3,1500.1 318.9,1477.3 320.5,1482.0 322.1,1498.5 323.7,1489.2 325.3,1498.5 326.9,1497.4 328.5,1492.2 330.1,1514.4 331.7,1496.0 333.3,1480.5 334.9,1465.9 336.5,1486.3 338.1,1516.3 339.7,1513.2 341.3,1506.0 342.9,1495.1 344.5,1477.4 346.1,1472.7 347.7,1486.3 349.3,1478.3 350.9,1483.8 352.5,1494.2 354.1,1490.7 355.7,1470.7 357.3,1491.9 358.9,1534.9 360.5,1549.7 362.1,1534.5 363.7,1493.0 365.3,1504.3 366.9,1546.2 368.5,1556.7 370.1,1550.6 371.7,1507.2 373.3,1473.1 374.9,1467.6 376.5,1469.8 378.1,1469.5 379.7,1486.9 381.3,1496.3 382.9,1493.9 384.5,1488.6 386.1,1475.8 387.7,1471.1 389.3,1488.7 390.9,1496.4 392.5,1501.5 394.1,1469.9 395.7,1465.8 397.3,1465.3 398.9,1465.6 400.5,1468.1 402.1,1462.9 403.7,1468.7 405.3,1467.6 406.9,1460.2 408.5,1459.4 410.1,1463.1 411.7,1474.1 413.3,1489.6 414.9,1490.6 416.5,1489.4 418.1,1492.8 419.7,1489.0 421.3,1480.7 422.9,1494.1 424.5,1505.4 426.1,1472.4 427.7,1466.3 429.3,1463.8 430.9,1476.9 432.5,1511.9 434.1,1535.3 435.7,1523.5 437.3,1499.0 438.9,1494.2 440.5,1513.6 442.1,1516.9 443.7,1529.6 445.3,1540.8 446.9,1539.3 448.5,1540.0 450.1,1546.3 451.7,1553.4 453.3,1555.3 454.9,1543.6 456.5,1524.0 458.1,1533.7 459.7,1548.7 461.3,1551.2 462.9,1543.5 464.5,1526.3 466.1,1526.2 467.7,1532.5 469.3,1535.8 470.9,1536.8 472.5,1532.8 474.1,1515.9 475.7,1488.5 477.3,1470.6 478.9,1464.0 480.5,1461.9 482.1,1467.3 483.7,1464.6 485.3,1463.0 486.9,1470.8 488.5,1469.0 490.1,1478.7 491.7,1469.3 493.3,1476.3 494.9,1480.2 496.5,1494.5 498.1,1497.9 499.7,1485.6 501.3,1474.7 502.9,1462.7 504.5,1461.4 506.1,1491.3 507.7,1499.1 509.3,1488.0 510.9,1483.0 512.5,1466.6 514.1,1468.7 515.7,1459.3 517.3,1462.4 518.9,1465.6 520.5,1472.9 522.1,1469.7 523.7,1462.2 525.3,1462.4 526.9,1459.6 528.5,1461.7 530.1,1462.8 531.7,1480.1 533.3,1489.3 534.9,1463.2 536.5,1462.6 538.1,1464.9 539.7,1462.1 541.3,1459.1 542.9,1458.0 544.5,1454.0 546.1,1455.0 547.7,1452.8 549.3,1459.9 550.9,1485.0 552.5,1493.2 554.1,1518.8 555.7,1537.4 557.3,1516.4 558.9,1487.0 560.5,1492.8 562.1,1483.0 563.7,1457.2 565.3,1452.1 566.9,1452.4 568.5,1459.3 570.1,1455.9 571.7,1461.6 573.3,1460.8 574.9,1462.3 576.5,1474.7 578.1,1487.1 579.7,1478.1 581.3,1463.2 582.9,1459.5 584.5,1460.4 586.1,1458.0 587.7,1476.9 589.3,1501.0 590.9,1504.0 592.5,1469.0 594.1,1461.3 595.7,1462.0 597.3,1461.4 598.9,1472.5 600.5,1464.3 602.1,1464.5 603.7,1466.6 605.3,1459.6 606.9,1455.9 608.5,1460.1 610.1,1463.8 611.7,1458.5 613.3,1460.2 614.9,1483.5 616.5,1506.9 618.1,1526.1 619.7,1536.7 621.3,1545.3 622.9,1537.7 624.5,1528.0 626.1,1513.6 627.7,1495.4 629.3,1484.0 630.9,1481.8 632.5,1470.7 634.1,1453.6 635.7,1458.0 637.3,1500.8 638.9,1506.5 640.5,1488.2 642.1,1502.5 643.7,1463.5 645.3,1452.3 646.9,1454.6 648.5,1458.4 650.1,1475.0 651.7,1487.5 653.3,1493.3 654.9,1482.5 656.5,1471.8 658.1,1454.6 659.7,1464.8 661.3,1468.6 662.9,1480.5 664.5,1476.1 666.1,1471.8 667.7,1475.1 669.3,1474.1 670.9,1479.3 672.5,1483.3 674.1,1482.3 675.7,1487.5 677.3,1488.1 678.9,1470.8 680.5,1466.6 682.1,1452.2 683.7,1455.8 685.3,1474.8 686.9,1502.6 688.5,1494.1 690.1,1468.9 691.7,1456.2 693.3,1454.2 694.9,1466.6 696.5,1460.8 698.1,1477.9 699.7,1491.5 701.3,1463.0 702.9,1465.3 704.5,1458.7 706.1,1470.6 707.7,1486.2 709.3,1492.9 710.9,1496.4 712.5,1477.3 714.1,1479.4 715.7,1474.3 717.3,1488.3 718.9,1467.2 720.5,1487.0 722.1,1490.0 723.7,1480.1 725.3,1477.3 726.9,1463.0 728.5,1460.8 730.1,1464.1 731.7,1474.7 733.3,1484.5 734.9,1473.0 736.5,1464.8 738.1,1493.6 739.7,1500.1 741.3,1516.8 742.9,1513.3 744.5,1498.7 746.1,1494.5 747.7,1500.4 749.3,1497.5 750.9,1493.6 752.5,1472.8 754.1,1455.6 755.7,1475.1 757.3,1471.7 758.9,1483.4 760.5,1498.7 762.1,1518.9 763.7,1531.8 765.3,1523.7 766.9,1519.2 768.5,1514.6 770.1,1493.9 771.7,1474.3 773.3,1458.4 774.9,1473.1 776.5,1489.2 778.1,1495.5 779.7,1458.3 781.3,1459.2 782.9,1459.6 784.5,1460.2 786.1,1473.0 787.7,1484.0 789.3,1472.6 790.9,1479.8 792.5,1478.1 794.1,1479.2 795.7,1469.8 797.3,1456.5 798.9,1448.3 800.5,1451.6 802.1,1463.4 803.7,1481.8 805.3,1477.0 806.9,1462.0 808.5,1453.6 810.1,1452.3 811.7,1462.8 813.3,1483.2 814.9,1479.9 816.5,1460.8 818.1,1460.7 819.7,1464.4 821.3,1462.7 822.9,1456.0 824.5,1448.3 826.1,1457.3 827.7,1470.5 829.3,1474.4 830.9,1476.6 832.5,1471.3 834.1,1479.1 835.7,1467.5 837.3,1472.6 838.9,1476.0 840.5,1467.6 842.1,1459.8 843.7,1452.3 845.3,1451.9 846.9,1468.3 848.5,1490.9 850.1,1508.2 851.7,1515.5 853.3,1498.7 854.9,1477.2 856.5,1469.1 858.1,1478.4 859.7,1454.3 861.3,1453.9 862.9,1465.6 864.5,1474.6 866.1,1475.0 867.7,1465.5 869.3,1466.5 870.9,1467.4 872.5,1485.5 874.1,1511.5 875.7,1530.0 877.3,1529.7 878.9,1515.5 880.5,1507.4 882.1,1513.4 883.7,1511.4 885.3,1518.3 886.9,1503.2 888.5,1481.0 890.1,1461.8 891.7,1452.0 893.3,1464.4 894.9,1476.6 896.5,1470.6 898.1,1483.6 899.7,1466.3 901.3,1480.5 902.9,1490.5 904.5,1502.9 906.1,1510.6 907.7,1524.6 909.3,1531.9 910.9,1534.1 912.5,1520.4 914.1,1502.1 915.7,1486.0 917.3,1469.3 918.9,1462.1 920.5,1472.9 922.1,1480.5 923.7,1483.0 925.3,1460.4 926.9,1454.0 928.5,1463.5 930.1,1471.9 931.7,1482.3 933.3,1485.8 934.9,1461.1 936.5,1450.2 938.1,1453.6 939.7,1452.8 941.3,1477.7 942.9,1484.6 944.5,1472.1 946.1,1469.4 947.7,1468.5 949.3,1462.1 950.9,1452.0 952.5,1456.5 954.1,1484.2 955.7,1487.3 957.3,1476.6 958.9,1467.6 960.5,1468.9 962.1,1481.0 963.7,1486.3 965.3,1483.1 966.9,1463.7 968.5,1449.2 970.1,1450.0 971.7,1453.8 973.3,1460.1 974.9,1459.4 976.5,1471.4 978.1,1490.0 979.7,1492.9 981.3,1501.8 982.9,1519.8 984.5,1519.8 986.1,1525.6 987.7,1514.1 989.3,1497.5 990.9,1477.3 992.5,1464.2 994.1,1462.2 995.7,1462.6 997.3,1472.5 998.9,1494.6 1000.5,1480.4 1002.1,1465.1 1003.7,1463.7 1005.3,1481.7 1006.9,1469.7 1008.5,1449.4 1010.1,1447.5 1011.7,1451.3 1013.3,1448.7 1014.9,1450.4 1016.5,1452.6 1018.1,1450.3 1019.7,1454.8 1021.3,1475.1 1022.9,1475.0 1024.5,1457.1 1026.1,1468.4 1027.7,1454.3 1029.3,1456.9 1030.9,1450.0 1032.5,1461.6 1034.1,1465.5 1035.7,1459.4 1037.3,1486.1 1038.9,1472.6 1040.5,1463.4 1042.1,1471.7 1043.7,1449.6 1045.3,1448.2 1046.9,1449.6 1048.5,1447.6 1050.1,1447.7 1051.7,1450.4 1053.3,1475.3 1054.9,1487.4 1056.5,1459.5 1058.1,1449.0 1059.7,1450.0 1061.3,1448.7 1062.9,1453.5 1064.5,1457.0 1066.1,1457.9 1067.7,1469.7 1069.3,1481.4 1070.9,1509.1 1072.5,1533.0 1074.1,1541.6 1075.7,1540.5 1077.3,1531.2 1078.9,1510.0 1080.5,1475.9 1082.1,1466.4 1083.7,1474.9 1085.3,1470.8 1086.9,1471.2 1088.5,1486.6 1090.1,1485.6 1091.7,1460.4 1093.3,1451.8 1094.9,1447.9 1096.5,1450.5 1098.1,1455.0 1099.7,1450.1 1101.3,1457.9 1102.9,1474.0 1104.5,1465.9 1106.1,1455.3 1107.7,1469.3 1109.3,1468.8 1110.9,1448.1 1112.5,1448.7 1114.1,1458.6 1115.7,1450.4 1117.3,1448.0 1118.9,1449.9 1120.5,1455.0 1122.1,1449.1 1123.7,1448.2 1125.3,1446.5 1126.9,1447.2 1128.5,1446.9 1130.1,1446.7 1131.7,1448.7 1133.3,1472.7 1134.9,1457.3 1136.5,1449.3 1138.1,1452.2 1139.7,1458.9 1141.3,1464.3 1142.9,1476.1 1144.5,1475.1 1146.1,1464.1 1147.7,1486.3 1149.3,1464.4 1150.9,1447.5 1152.5,1449.3 1154.1,1459.3 1155.7,1458.7 1157.3,1490.2 1158.9,1527.4 1160.5,1541.2 1162.1,1517.1 1163.7,1474.7 1165.3,1463.3 1166.9,1454.8 1168.5,1459.7 1170.1,1452.7 1171.7,1462.4 1173.3,1473.0 1174.9,1478.2 1176.5,1460.2 1178.1,1467.9 1179.7,1470.5 1181.3,1453.4 1182.9,1446.2 1184.5,1446.2 1186.1,1446.3 1187.7,1446.2 1189.3,1446.3 1190.9,1446.1 1192.5,1446.2 1194.1,1446.1 1195.7,1448.2 1197.3,1447.9 1198.9,1447.4 1200.5,1446.3 1202.1,1450.5 1203.7,1459.9 1205.3,1478.0 1206.9,1465.0 1208.5,1449.1 1210.1,1449.3 1211.7,1452.4 1213.3,1480.4 1214.9,1466.9 1216.5,1455.2 1218.1,1472.2 1219.7,1473.0 1221.3,1461.7 1222.9,1462.0 1224.5,1459.4 1226.1,1463.6 1227.7,1483.0 1229.3,1494.0 1230.9,1507.8 1232.5,1502.4 1234.1,1503.2 1235.7,1491.8 1237.3,1473.8 1238.9,1464.9 1240.5,1484.5 1242.1,1507.5 1243.7,1508.2 1245.3,1496.3 1246.9,1487.8 1248.5,1463.0 1250.1,1458.0 1251.7,1453.0 1253.3,1449.4 1254.9,1450.3 1256.5,1446.2 1258.1,1454.8 1259.7,1470.8 1261.3,1464.5 1262.9,1451.0 1264.5,1446.3 1266.1,1446.0 1267.7,1446.0 1269.3,1446.0 1270.9,1446.0 1272.5,1446.0 1274.1,1446.2 1275.7,1450.0 1277.3,1462.2 1278.9,1480.3 1280.5,1464.7 1282.1,1462.5 1283.7,1480.6 1285.3,1468.7 1286.9,1467.6 1288.5,1465.4 1290.1,1458.1 1291.7,1453.8 1293.3,1449.8 1294.9,1455.3 1296.5,1463.8 1298.1,1460.2 1299.7,1446.2 1301.3,1446.0 1302.9,1446.0 1304.5,1447.4 1306.1,1461.0 1307.7,1458.3 1309.3,1455.6 1310.9,1447.5 1312.5,1452.2 1314.1,1477.4 1315.7,1482.1 1317.3,1475.4 1318.9,1473.5 1320.5,1455.6 1322.1,1462.9 1323.7,1467.8 1325.3,1453.3 1326.9,1467.2 1328.5,1451.7 1330.1,1453.2 1331.7,1449.1 1333.3,1453.8 1334.9,1451.3 1336.5,1455.6 1338.1,1447.0 1339.7,1446.3 1341.3,1446.0 1342.9,1446.0 1344.5,1446.0 1346.1,1446.0 1347.7,1446.3 1349.3,1448.4 1350.9,1451.5 1352.5,1474.6 1354.1,1487.6 1355.7,1451.3 1357.3,1448.1 1358.9,1459.3 1360.5,1458.8 1362.1,1447.9 1363.7,1454.3 1365.3,1461.0 1366.9,1473.2 1368.5,1477.7 1370.1,1483.0 1371.7,1490.7 1373.3,1493.7 1374.9,1491.4 1376.5,1481.7 1378.1,1473.3 1379.7,1472.8 1381.3,1468.1 1382.9,1456.8 1384.5,1467.9 1386.1,1468.4 1387.7,1450.3 1389.3,1447.2 1390.9,1460.4 1392.5,1465.2 1394.1,1450.3 1395.7,1452.4 1397.3,1448.2 1398.9,1452.8 1400.5,1447.5 1402.1,1447.5 1403.7,1453.1 1405.3,1453.6 1406.9,1452.3 1408.5,1465.9 1410.1,1459.5 1411.7,1452.0 1413.3,1452.0 1414.9,1448.9 1416.5,1450.2 1418.1,1451.0 1419.7,1455.7 1421.3,1450.2 1422.9,1449.7 1424.5,1460.3 1426.1,1467.5 1427.7,1464.4 1429.3,1455.5 1430.9,1454.0 1432.5,1461.1 1434.1,1449.5 1435.7,1447.7 1437.3,1447.3 1438.9,1446.6 1440.5,1446.3 1442.1,1446.1 1443.7,1446.0 1445.3,1446.0 1446.9,1446.0 1448.5,1446.7 1450.1,1459.5 1451.7,1460.7 1453.3,1459.2 1454.9,1473.7 1456.5,1470.0 1458.1,1463.0 1459.7,1472.4 1461.3,1465.5 1462.9,1456.5 1464.5,1446.6 1466.1,1446.0 1467.7,1446.3 1469.3,1450.6 1470.9,1450.1 1472.5,1448.1 1474.1,1451.2 1475.7,1459.0 1477.3,1458.0 1478.9,1452.2 1480.5,1467.8 1482.1,1469.7 1483.7,1448.5 1485.3,1454.2 1486.9,1465.7 1488.5,1468.1 1490.1,1461.8 1491.7,1453.6 1493.3,1452.5 1494.9,1446.6 1496.5,1446.4 1498.1,1449.5 1499.7,1449.7 1501.3,1457.8 1502.9,1458.0 1504.5,1447.4 1506.1,1461.2 1507.7,1455.2 1509.3,1451.5 1510.9,1452.1 1512.5,1463.1 1514.1,1462.2 1515.7,1451.7 1517.3,1453.1 1518.9,1454.4 1520.5,1456.5 1522.1,1446.7 1523.7,1446.1 1525.3,1446.5 1526.9,1454.0 1528.5,1452.3 1530.1,1455.7 1531.7,1463.0 1533.3,1459.6 1534.9,1457.2 1536.5,1448.7 1538.1,1453.7 1539.7,1454.0 1541.3,1455.3 1542.9,1453.6 1544.5,1448.6 1546.1,1446.9 1547.7,1460.4 1549.3,1461.0 1550.9,1491.9 1552.5,1505.1 1554.1,1482.4 1555.7,1454.7 1557.3,1448.8 1558.9,1460.5 1560.5,1466.2 1562.1,1459.3 1563.7,1454.0 1565.3,1454.7 1566.9,1452.3 1568.5,1450.0 1570.1,1452.8 1571.7,1448.3 1573.3,1451.2 1574.9,1453.6 1576.5,1460.4 1578.1,1454.8 1579.7,1446.6 1581.3,1447.3 1582.9,1448.8 1584.5,1448.4 1586.1,1448.0 1587.7,1449.3 1589.3,1455.6 1590.9,1452.7 1592.5,1453.2 1594.1,1451.9 1595.7,1452.5 1597.3,1457.0 1598.9,1447.3 1600.5,1446.3 1602.1,1449.1 1603.7,1461.0 1605.3,1459.1 1606.9,1454.9 1608.5,1448.6 1610.1,1451.2 1611.7,1454.1 1613.3,1449.4 1614.9,1447.5 1616.5,1452.6 1618.1,1458.0 1619.7,1462.5 1621.3,1450.2 1622.9,1447.8 1624.5,1446.8 1626.1,1446.1 1627.7,1446.0 1629.3,1446.0 1630.9,1446.3 1632.5,1451.1 1634.1,1447.4 1635.7,1447.5 1637.3,1452.7 1638.9,1456.0 1640.5,1456.5 1642.1,1449.5 1643.7,1448.6 1645.3,1451.7 1646.9,1454.8 1648.5,1448.7 1650.1,1446.9 1651.7,1446.2 1653.3,1451.6 1654.9,1446.8 1656.5,1446.1 1658.1,1447.8 1659.7,1450.3 1661.3,1453.8 1662.9,1447.4 1664.5,1446.1 1666.1,1446.2 1667.7,1448.0 1669.3,1447.6 1670.9,1447.8 1672.5,1450.7 1674.1,1452.3 1675.7,1458.3 1677.3,1447.9" fill="none" stroke="#ff8c3f" stroke-width="3.8" stroke-linejoin="round"/>
<polyline points="1435.0,1446.0 1436.6,1446.0 1438.2,1446.0 1439.8,1446.0 1441.4,1446.0 1443.0,1446.0 1444.6,1446.0 1446.2,1446.0 1447.8,1446.0 1449.4,1446.0 1451.0,1446.0 1452.6,1446.0 1454.2,1446.0 1455.8,1446.0 1457.4,1446.4 1459.0,1447.8 1460.6,1452.4 1462.2,1458.2 1463.8,1467.2 1465.4,1488.0 1467.0,1499.4 1468.6,1476.1 1470.2,1456.6 1471.8,1446.8 1473.4,1446.0 1475.0,1446.0 1476.6,1446.0 1478.2,1446.0 1479.8,1446.0 1481.4,1446.0 1483.0,1446.0 1484.6,1446.0 1486.2,1446.4 1487.8,1448.7 1489.4,1457.4 1491.0,1472.6 1492.6,1486.2 1494.2,1485.0 1495.8,1469.6 1497.4,1455.0 1499.0,1447.9 1500.6,1446.3 1502.2,1446.0 1503.8,1446.0 1505.4,1446.0 1507.0,1446.0 1508.6,1446.0 1510.2,1446.0 1511.8,1446.0 1513.4,1446.0 1515.0,1446.0 1516.6,1446.1 1518.2,1446.8 1519.8,1450.3 1521.4,1465.2 1523.0,1483.6 1524.6,1497.6 1526.2,1496.7 1527.8,1481.5 1529.4,1461.4 1531.0,1449.4 1532.6,1449.4 1534.2,1463.3 1535.8,1456.3 1537.4,1446.4 1539.0,1446.0 1540.6,1446.0 1542.2,1446.0 1543.8,1446.0 1545.4,1446.0 1547.0,1447.1 1548.6,1455.0 1550.2,1467.6 1551.8,1472.9 1553.4,1461.1 1555.0,1449.3 1556.6,1446.2 1558.2,1446.1 1559.8,1447.4 1561.4,1453.3 1563.0,1460.6 1564.6,1463.0 1566.2,1471.5 1567.8,1498.8 1569.4,1507.2 1571.0,1469.1 1572.6,1447.5 1574.2,1446.1 1575.8,1452.5 1577.4,1479.0 1579.0,1476.1 1580.6,1449.6 1582.2,1446.4 1583.8,1454.3 1585.4,1485.1 1587.0,1499.1 1588.6,1471.9 1590.2,1461.1 1591.8,1472.4 1593.4,1452.9 1595.0,1449.5 1596.6,1456.2 1598.2,1472.2 1599.8,1481.0 1601.4,1486.6 1603.0,1481.3 1604.6,1463.8 1606.2,1448.6 1607.8,1447.2 1609.4,1459.0 1611.0,1480.7 1612.6,1473.9 1614.2,1462.9 1615.8,1468.2 1617.4,1474.0 1619.0,1486.3 1620.6,1499.3 1622.2,1486.1 1623.8,1455.0 1625.4,1447.2 1627.0,1446.1 1628.6,1446.8 1630.2,1456.2 1631.8,1462.2 1633.4,1451.2 1635.0,1449.1 1636.6,1464.8 1638.2,1470.5 1639.8,1455.6 1641.4,1474.1 1643.0,1498.5 1644.6,1470.6 1646.2,1448.2 1647.8,1446.1 1649.4,1446.9 1651.0,1454.3 1652.6,1470.4 1654.2,1477.4 1655.8,1465.9 1657.4,1463.1 1659.0,1480.9 1660.6,1495.4 1662.2,1493.4 1663.8,1477.5 1665.4,1461.7 1667.0,1470.4 1668.6,1488.3 1670.2,1469.7 1671.8,1450.8 1673.4,1471.9 1675.0,1512.4 1676.6,1503.2" fill="none" stroke="#f77fc6" stroke-width="3.6" stroke-linejoin="round"/>
<polyline points="191.8,1447.2 195.1,1446.7 198.1,1447.3 201.1,1448.4 204.2,1449.1 207.2,1450.4 210.8,1461.9 214.2,1468.3 217.3,1453.6 220.2,1463.1 224.0,1460.9 227.4,1457.3 231.0,1451.5 233.9,1447.0 237.7,1446.0 240.9,1453.3 244.4,1470.6 247.6,1463.9 251.2,1453.5 254.9,1457.5 257.8,1454.0 260.9,1446.0 263.9,1446.0 267.7,1457.7 271.0,1458.1 274.2,1476.5 278.4,1474.4 282.5,1446.0 285.7,1458.8 288.7,1447.2 292.9,1449.7 296.5,1454.1 299.4,1478.3 302.6,1486.4 306.3,1470.0 310.0,1462.8 313.0,1456.8 316.4,1457.9 320.2,1461.0 323.2,1462.5 327.4,1469.4 330.7,1494.2 334.5,1500.2 337.8,1461.5 341.4,1451.1 345.6,1461.1 349.7,1468.8 353.2,1448.4 357.1,1475.1 360.9,1497.2 365.1,1501.5 368.2,1470.5 372.1,1460.9 375.4,1462.6 379.4,1473.1 383.1,1463.2 386.1,1484.5 389.2,1491.5 392.5,1495.5 396.3,1508.7 399.4,1500.5 403.4,1470.2 406.6,1464.6 409.5,1470.7 412.9,1472.0 416.9,1484.0 420.2,1508.3 423.3,1500.3 426.5,1513.6 430.3,1507.9 433.9,1480.3 437.1,1470.7 441.2,1453.8 445.3,1490.1 448.3,1487.2 452.0,1494.5 456.0,1500.2 459.9,1507.0 462.9,1519.8 466.3,1505.9 469.4,1481.7 473.3,1455.1 476.9,1454.6 480.9,1483.4 484.5,1507.3 487.8,1534.2 490.7,1512.9 494.8,1535.3 498.5,1532.5 502.4,1463.4 505.8,1449.1 509.1,1472.2 512.0,1478.6 515.2,1453.6 518.9,1496.5 521.9,1511.6 525.4,1525.6 529.6,1546.8 533.0,1516.4 536.1,1485.5 540.3,1479.3 543.7,1476.0 546.5,1469.9 550.6,1487.7 554.0,1506.8 557.6,1509.6 560.8,1543.4 564.1,1534.1 567.8,1495.8 571.5,1487.6 575.7,1484.7 578.5,1490.5 581.4,1493.2 585.4,1498.5 589.2,1519.6 592.8,1515.5 596.4,1531.7 599.6,1540.5 603.2,1529.5 606.6,1504.1 610.1,1485.4 613.9,1483.5 617.8,1483.0 621.4,1491.7 625.5,1515.0 628.3,1513.2 632.4,1524.4 636.4,1525.4 640.4,1518.4 644.0,1486.3 647.3,1477.3 651.0,1491.7 654.3,1467.9 657.9,1487.1 661.9,1487.7 664.8,1510.8 668.2,1516.5 672.4,1539.3 676.1,1516.3 679.6,1494.5 683.4,1476.8 686.6,1472.7 690.7,1485.1 693.5,1482.7 697.2,1493.0 700.5,1502.2 703.7,1517.4 707.3,1528.0 710.6,1530.1 714.5,1496.9 718.6,1484.0 721.9,1488.4 725.2,1479.3 728.8,1481.3 732.7,1494.0 735.9,1496.7 739.3,1499.6 743.3,1501.8 746.7,1515.9 749.6,1543.0 752.8,1512.3 756.1,1485.0 759.8,1477.4 763.8,1478.4 767.3,1480.4 771.2,1491.2 774.3,1498.4 777.4,1487.2 780.2,1504.2 783.2,1498.7 787.1,1530.7 791.0,1528.6 795.2,1485.7 799.3,1478.2 802.5,1458.6 806.5,1467.5 810.1,1474.0 813.7,1478.4 816.7,1491.1 819.8,1481.4 823.6,1500.6 827.5,1507.0 831.3,1503.7 834.5,1474.2 838.4,1450.0 841.4,1466.6 844.4,1461.0 847.4,1485.7 850.3,1472.2 854.1,1471.0 857.0,1481.4 861.0,1500.8 864.4,1497.2 867.6,1505.4 870.8,1504.2 874.7,1477.0 878.2,1467.1 881.6,1456.6 884.8,1458.8 887.9,1475.1 891.1,1458.7 894.8,1478.5 898.3,1461.0 902.4,1477.6 905.8,1467.4 909.0,1482.0 912.2,1498.1 916.0,1484.8 919.1,1449.9 922.5,1460.7 925.9,1463.2 929.2,1449.3 932.2,1459.8 936.3,1455.7 940.0,1468.4 943.2,1488.0 946.6,1470.1 950.7,1478.3 954.8,1447.7 957.8,1459.9 961.9,1451.3 965.2,1446.0 969.4,1463.4 973.4,1455.3 976.7,1458.8 980.5,1459.6 984.0,1466.1 987.9,1475.6 991.7,1473.2 994.9,1468.1 998.2,1455.9 1002.2,1467.9 1006.3,1456.6 1009.3,1463.5 1012.2,1472.6 1015.6,1469.0 1019.8,1459.6 1023.2,1473.0 1026.2,1488.6 1029.8,1489.7 1033.2,1503.5 1036.7,1514.4 1040.1,1515.7 1043.2,1507.1 1046.1,1524.9 1050.0,1537.4 1054.0,1546.3 1057.4,1560.6 1061.0,1551.6 1063.9,1556.5 1067.6,1558.9 1071.7,1560.2 1075.6,1569.2 1079.2,1572.3 1082.9,1570.3 1086.4,1571.9 1089.3,1569.2 1092.4,1560.9 1095.9,1570.4 1098.9,1574.1 1102.9,1560.1 1106.2,1573.0 1110.1,1562.2 1113.4,1564.6 1117.0,1576.4 1120.8,1586.3 1124.3,1568.1 1127.6,1567.7 1130.7,1570.6 1134.1,1569.1 1138.1,1572.1 1141.4,1559.9 1144.5,1568.4 1148.3,1564.7 1151.6,1569.0 1155.5,1556.0 1159.7,1546.5 1162.5,1570.7 1166.5,1561.5 1169.9,1551.6 1173.8,1544.5 1177.7,1546.2 1181.2,1535.3 1184.1,1521.8 1188.0,1521.5 1190.8,1521.4 1193.9,1505.5 1197.6,1497.9 1201.0,1504.7 1204.1,1497.8 1207.7,1503.7 1210.8,1501.6 1214.0,1498.9 1217.3,1493.1 1221.1,1488.9 1224.9,1493.1 1227.9,1490.7 1230.8,1482.7 1234.0,1477.1 1238.0,1477.1 1242.1,1476.0 1245.9,1491.8 1249.5,1490.6 1253.6,1519.3 1256.4,1508.6 1259.5,1516.8 1262.9,1489.2 1266.9,1469.4 1270.1,1482.3 1273.3,1470.6 1276.4,1476.0 1279.4,1478.5 1282.4,1470.1 1285.8,1471.8 1289.1,1452.1 1292.9,1470.5 1296.2,1502.0 1299.8,1481.2 1303.2,1483.4 1307.3,1502.2 1310.9,1530.3 1315.0,1494.0 1317.8,1469.5 1321.4,1456.3 1325.3,1459.0 1329.1,1474.3 1332.1,1469.5 1336.3,1477.7 1339.4,1490.1 1342.5,1497.8 1345.5,1480.7 1348.6,1473.7 1352.5,1470.0 1356.5,1481.6 1359.4,1493.9 1362.9,1518.1 1367.0,1477.5 1371.2,1468.8 1374.4,1471.7 1377.5,1463.4 1381.1,1487.2 1385.1,1515.8 1389.0,1483.9 1391.9,1472.8 1396.0,1499.0 1399.8,1487.2 1403.1,1468.1 1406.9,1468.6 1409.8,1494.9 1413.7,1515.3 1417.2,1505.6 1420.7,1465.2 1423.6,1459.1 1427.6,1470.6 1431.3,1468.8 1435.5,1498.7 1439.6,1505.7 1443.4,1485.4 1447.1,1498.5 1450.5,1500.0 1454.1,1489.7 1457.0,1473.4 1461.0,1469.9 1464.0,1479.5 1468.2,1489.4 1471.2,1496.1 1475.3,1511.2 1478.3,1488.8 1481.7,1483.0 1485.0,1477.5 1487.9,1489.3 1492.1,1501.7 1496.0,1508.1 1499.8,1481.8 1503.3,1487.1 1506.8,1488.8 1510.7,1487.6 1514.1,1493.5 1517.3,1501.6 1521.0,1525.2 1524.6,1516.8 1528.1,1525.8 1532.3,1495.0 1535.6,1479.4 1538.8,1490.0 1541.7,1491.4 1545.7,1471.2 1549.5,1508.4 1553.3,1495.3 1557.2,1473.4 1560.2,1483.3 1564.1,1506.4 1567.2,1482.9 1571.1,1503.0 1575.3,1524.1 1578.2,1519.9 1582.0,1513.9 1585.9,1509.8 1589.4,1474.0 1593.1,1468.5 1596.9,1482.7 1600.7,1482.0 1604.3,1499.1 1607.7,1518.3 1611.1,1482.1 1614.5,1472.6 1617.9,1474.5 1620.8,1519.1 1623.6,1511.1 1627.0,1500.4 1630.7,1495.2 1633.5,1516.1 1637.5,1511.1 1641.0,1496.3 1644.2,1530.7 1648.2,1498.7 1651.3,1481.2 1655.2,1503.4 1658.7,1501.9 1662.6,1497.3 1666.6,1486.9 1670.3,1491.3 1674.4,1473.4" fill="none" stroke="#2ca02c" stroke-width="6.0" stroke-linejoin="round"/>
<line x1="192.5" y1="1443.2" x2="1678.0" y2="1443.2" stroke="#cb2a45" stroke-width="4.2" />
</g>
<path d="M192.5,1548 V1431.0 H1678.0 V1548" fill="none" stroke="#262626" stroke-width="3.0"/>
<line x1="183.0" y1="1511.0" x2="192.5" y2="1511.0" stroke="#262626" stroke-width="2.4" />
<text x="173.0" y="1529.5" font-size="39" fill="#000" stroke="#000" stroke-width="0.40" text-anchor="end" >1.5</text>
<text transform="translate(90,1536) rotate(-90)" font-size="44" stroke="#000" stroke-width="0.55" text-anchor="start">F<tspan font-size="30.8" dy="3.5">ν</tspan></text>
<rect x="1733.0" y="1493.0" width="220.0" height="80.0" fill="#fff" stroke="#d4d4d4" stroke-width="2.0" rx="5" ry="5"/>
<line x1="1747.5" y1="1525.0" x2="1829.0" y2="1525.0" stroke="#4f97cc" stroke-width="4.6" />
<text x="1857.5" y="1540.5" font-size="40" fill="#000" stroke="#000" stroke-width="0.43" text-anchor="start" >H<tspan font-size="28.0" dy="6.4">2</tspan><tspan dy="-6.4">O</tspan></text>
</g>
</svg></body></html>
